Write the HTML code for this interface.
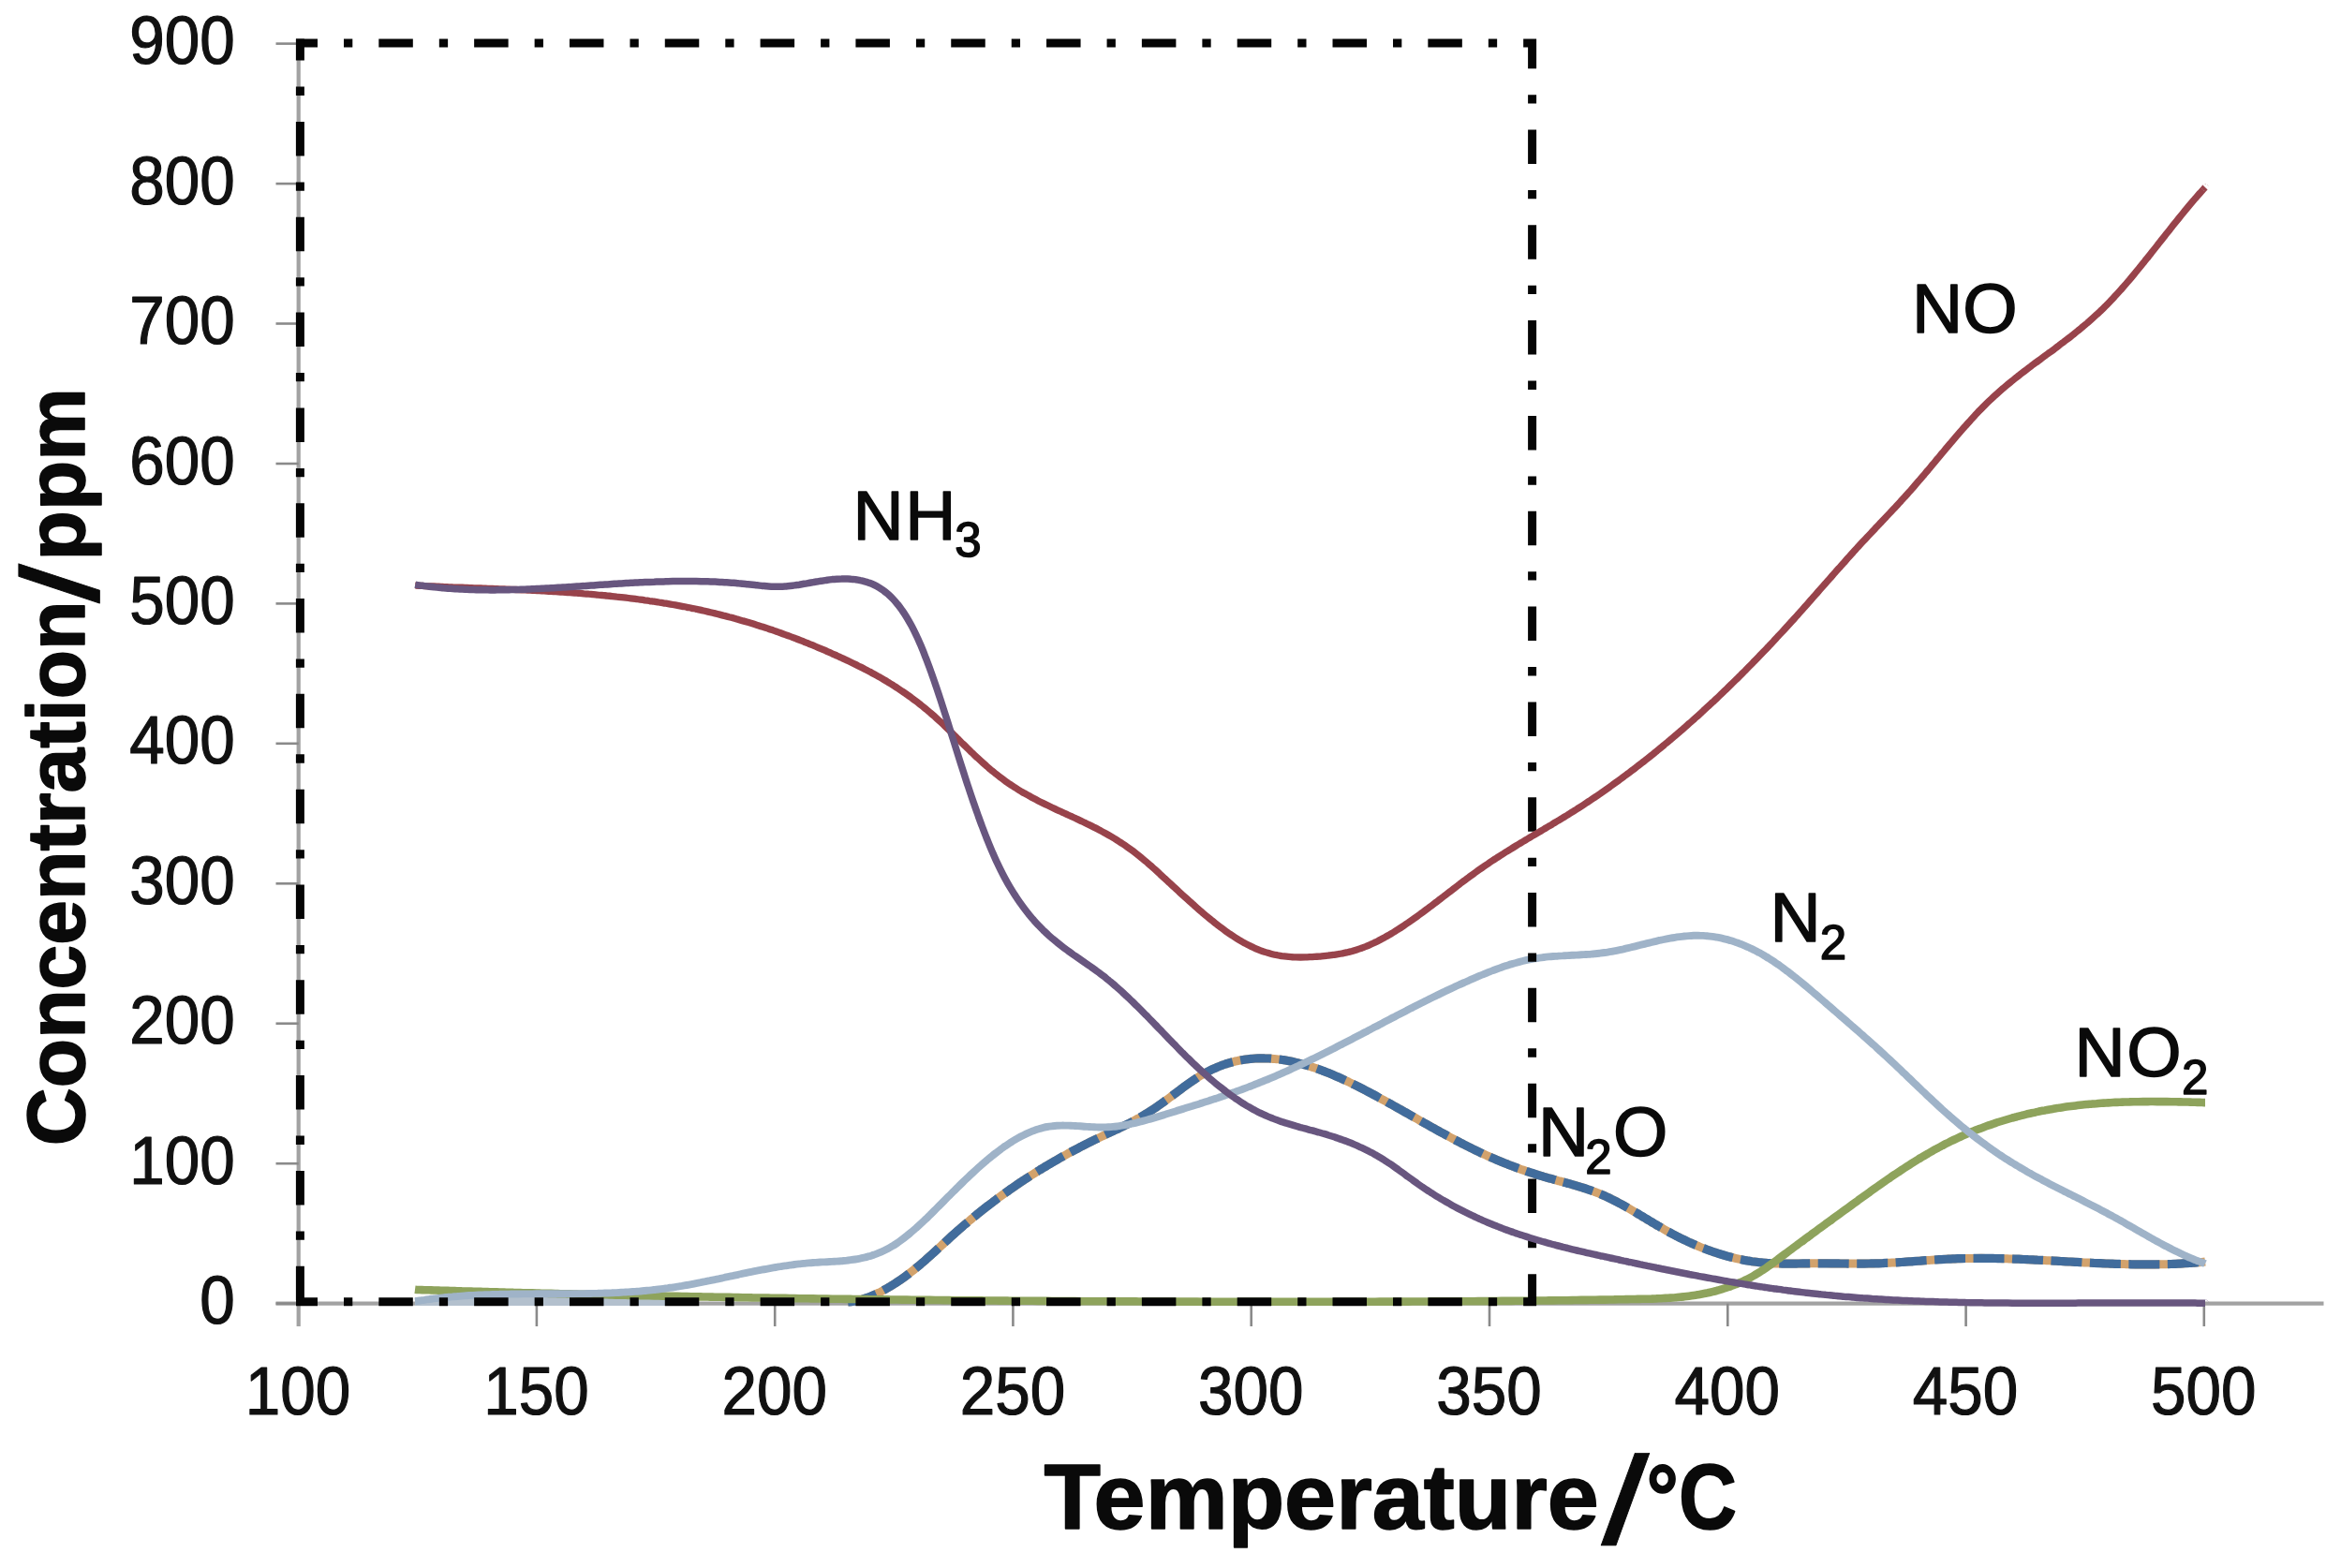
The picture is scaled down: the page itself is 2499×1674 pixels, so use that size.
<!DOCTYPE html>
<html lang="en"><head><meta charset="utf-8"><title>Concentration vs Temperature</title>
<style>html,body{margin:0;padding:0;background:#fff}body{width:2499px;height:1674px;overflow:hidden}svg{display:block}
.tk{font-family:"Liberation Sans",Arial,sans-serif;font-size:72.5px;fill:#111;stroke:#111;stroke-width:1.2px;stroke-linejoin:round}.an{font-family:"Liberation Sans",Arial,sans-serif;font-size:75px;fill:#0a0a0a;stroke:#0a0a0a;stroke-width:1.5px;stroke-linejoin:round}.sub{font-size:51px}.ti{font-family:"Liberation Sans",Arial,sans-serif;font-weight:bold;fill:#0a0a0a;stroke:#0a0a0a;stroke-width:1.6px;stroke-linejoin:round}
</style></head><body>
<svg width="2499" height="1674" viewBox="0 0 2499 1674">
<rect width="2499" height="1674" fill="#ffffff"/>
<g stroke="#a2a2a2" stroke-width="4.2" fill="none">
<line x1="318.7" y1="45.5" x2="318.7" y2="1416"/>
<line x1="294.5" y1="1391.7" x2="2480.5" y2="1391.7"/>
</g>
<g stroke="#8a8a8a" stroke-width="2.6" fill="none">
<line x1="294.5" y1="1391.6" x2="318.7" y2="1391.6"/>
<line x1="294.5" y1="1242.2" x2="318.7" y2="1242.2"/>
<line x1="294.5" y1="1092.7" x2="318.7" y2="1092.7"/>
<line x1="294.5" y1="943.3" x2="318.7" y2="943.3"/>
<line x1="294.5" y1="793.8" x2="318.7" y2="793.8"/>
<line x1="294.5" y1="644.4" x2="318.7" y2="644.4"/>
<line x1="294.5" y1="495.0" x2="318.7" y2="495.0"/>
<line x1="294.5" y1="345.5" x2="318.7" y2="345.5"/>
<line x1="294.5" y1="196.1" x2="318.7" y2="196.1"/>
<line x1="294.5" y1="46.6" x2="318.7" y2="46.6"/>
<line x1="572.9" y1="1391.7" x2="572.9" y2="1416"/>
<line x1="827.2" y1="1391.7" x2="827.2" y2="1416"/>
<line x1="1081.4" y1="1391.7" x2="1081.4" y2="1416"/>
<line x1="1335.7" y1="1391.7" x2="1335.7" y2="1416"/>
<line x1="1590.0" y1="1391.7" x2="1590.0" y2="1416"/>
<line x1="1844.3" y1="1391.7" x2="1844.3" y2="1416"/>
<line x1="2098.6" y1="1391.7" x2="2098.6" y2="1416"/>
<line x1="2352.8" y1="1391.7" x2="2352.8" y2="1416"/>
</g>
<g class="tk" text-anchor="end">
<text x="250.8" y="1413.2" textLength="37.5" lengthAdjust="spacingAndGlyphs">0</text>
<text x="250.8" y="1263.8" textLength="112.5" lengthAdjust="spacingAndGlyphs">100</text>
<text x="250.8" y="1114.3" textLength="112.5" lengthAdjust="spacingAndGlyphs">200</text>
<text x="250.8" y="964.9" textLength="112.5" lengthAdjust="spacingAndGlyphs">300</text>
<text x="250.8" y="815.4" textLength="112.5" lengthAdjust="spacingAndGlyphs">400</text>
<text x="250.8" y="666.0" textLength="112.5" lengthAdjust="spacingAndGlyphs">500</text>
<text x="250.8" y="516.6" textLength="112.5" lengthAdjust="spacingAndGlyphs">600</text>
<text x="250.8" y="367.1" textLength="112.5" lengthAdjust="spacingAndGlyphs">700</text>
<text x="250.8" y="217.7" textLength="112.5" lengthAdjust="spacingAndGlyphs">800</text>
<text x="250.8" y="68.2" textLength="112.5" lengthAdjust="spacingAndGlyphs">900</text>
</g>
<g class="tk" text-anchor="middle">
<text x="318.1" y="1510.3" textLength="112.5" lengthAdjust="spacingAndGlyphs">100</text>
<text x="572.4" y="1510.3" textLength="112.5" lengthAdjust="spacingAndGlyphs">150</text>
<text x="826.7" y="1510.3" textLength="112.5" lengthAdjust="spacingAndGlyphs">200</text>
<text x="1080.9" y="1510.3" textLength="112.5" lengthAdjust="spacingAndGlyphs">250</text>
<text x="1335.2" y="1510.3" textLength="112.5" lengthAdjust="spacingAndGlyphs">300</text>
<text x="1589.5" y="1510.3" textLength="112.5" lengthAdjust="spacingAndGlyphs">350</text>
<text x="1843.8" y="1510.3" textLength="112.5" lengthAdjust="spacingAndGlyphs">400</text>
<text x="2098.1" y="1510.3" textLength="112.5" lengthAdjust="spacingAndGlyphs">450</text>
<text x="2352.3" y="1510.3" textLength="112.5" lengthAdjust="spacingAndGlyphs">500</text>
</g>
<g fill="none" stroke-linecap="butt" stroke-linejoin="round">
<path d="M443,1389.5 H736" stroke="#b3c0cd" stroke-width="9"/>
<path id="n2o_o" d="M905.0,1390.0C905.8,1389.9 908.3,1389.7 910.0,1389.5C911.7,1389.2 913.3,1388.9 915.0,1388.5C916.7,1388.2 918.3,1387.8 920.0,1387.3C921.7,1386.8 923.3,1386.3 925.0,1385.7C926.7,1385.1 928.3,1384.5 930.0,1383.8C931.7,1383.1 933.3,1382.4 935.0,1381.6C936.7,1380.9 938.3,1380.0 940.0,1379.2C941.7,1378.3 943.3,1377.4 945.0,1376.5C946.7,1375.6 948.3,1374.6 950.0,1373.6C951.7,1372.6 953.3,1371.6 955.0,1370.5C956.7,1369.4 958.3,1368.3 960.0,1367.2C961.7,1366.0 963.3,1364.9 965.0,1363.7C966.7,1362.5 968.3,1361.2 970.0,1360.0C971.7,1358.7 973.3,1357.4 975.0,1356.1C976.7,1354.8 978.3,1353.4 980.0,1352.0C981.7,1350.6 983.3,1349.2 985.0,1347.8C986.7,1346.4 988.3,1344.9 990.0,1343.4C991.7,1341.9 993.3,1340.4 995.0,1338.9C996.7,1337.4 998.3,1335.9 1000.0,1334.3C1001.7,1332.8 1003.3,1331.3 1005.0,1329.7C1006.7,1328.2 1008.3,1326.6 1010.0,1325.1C1011.7,1323.6 1013.3,1322.0 1015.0,1320.5C1016.7,1319.0 1018.3,1317.5 1020.0,1316.0C1021.7,1314.5 1023.3,1313.1 1025.0,1311.6C1026.7,1310.2 1028.3,1308.7 1030.0,1307.3C1031.7,1305.9 1033.3,1304.5 1035.0,1303.1C1036.7,1301.7 1038.3,1300.3 1040.0,1298.9C1041.7,1297.6 1043.3,1296.2 1045.0,1294.9C1046.7,1293.5 1048.3,1292.2 1050.0,1290.9C1051.7,1289.6 1053.3,1288.3 1055.0,1287.0C1056.7,1285.7 1058.3,1284.4 1060.0,1283.2C1061.7,1281.9 1063.3,1280.7 1065.0,1279.4C1066.7,1278.2 1068.3,1277.0 1070.0,1275.8C1071.7,1274.6 1073.3,1273.4 1075.0,1272.2C1076.7,1271.0 1078.3,1269.8 1080.0,1268.7C1081.7,1267.5 1083.3,1266.4 1085.0,1265.2C1086.7,1264.1 1088.3,1263.0 1090.0,1261.8C1091.7,1260.7 1093.3,1259.6 1095.0,1258.5C1096.7,1257.5 1098.3,1256.4 1100.0,1255.3C1101.7,1254.2 1103.3,1253.2 1105.0,1252.1C1106.7,1251.1 1108.3,1250.1 1110.0,1249.0C1111.7,1248.0 1113.3,1247.0 1115.0,1246.0C1116.7,1245.0 1118.3,1244.0 1120.0,1243.0C1121.7,1242.0 1123.3,1241.0 1125.0,1240.1C1126.7,1239.1 1128.3,1238.2 1130.0,1237.2C1131.7,1236.3 1133.3,1235.3 1135.0,1234.4C1136.7,1233.5 1138.3,1232.6 1140.0,1231.6C1141.7,1230.7 1143.3,1229.8 1145.0,1228.9C1146.7,1228.0 1148.3,1227.2 1150.0,1226.3C1151.7,1225.4 1153.3,1224.5 1155.0,1223.7C1156.7,1222.8 1158.3,1222.0 1160.0,1221.1C1161.7,1220.3 1163.3,1219.5 1165.0,1218.6C1166.7,1217.8 1168.3,1217.0 1170.0,1216.2C1171.7,1215.4 1173.3,1214.5 1175.0,1213.8C1176.7,1213.0 1178.3,1212.2 1180.0,1211.4C1181.7,1210.6 1183.3,1209.8 1185.0,1209.0C1186.7,1208.3 1188.3,1207.5 1190.0,1206.7C1191.7,1205.9 1193.3,1205.1 1195.0,1204.4C1196.7,1203.6 1198.3,1202.8 1200.0,1201.9C1201.7,1201.1 1203.3,1200.3 1205.0,1199.5C1206.7,1198.6 1208.3,1197.7 1210.0,1196.9C1211.7,1196.0 1213.3,1195.0 1215.0,1194.1C1216.7,1193.2 1218.3,1192.2 1220.0,1191.2C1221.7,1190.2 1223.3,1189.2 1225.0,1188.1C1226.7,1187.1 1228.3,1186.0 1230.0,1184.9C1231.7,1183.8 1233.3,1182.7 1235.0,1181.6C1236.7,1180.4 1238.3,1179.3 1240.0,1178.1C1241.7,1176.9 1243.3,1175.7 1245.0,1174.5C1246.7,1173.3 1248.3,1172.1 1250.0,1170.8C1251.7,1169.6 1253.3,1168.3 1255.0,1167.1C1256.7,1165.8 1258.3,1164.6 1260.0,1163.3C1261.7,1162.1 1263.3,1160.8 1265.0,1159.6C1266.7,1158.4 1268.3,1157.2 1270.0,1156.0C1271.7,1154.8 1273.3,1153.7 1275.0,1152.6C1276.7,1151.5 1278.3,1150.4 1280.0,1149.3C1281.7,1148.3 1283.3,1147.3 1285.0,1146.4C1286.7,1145.4 1288.3,1144.5 1290.0,1143.7C1291.7,1142.8 1293.3,1142.0 1295.0,1141.2C1296.7,1140.5 1298.3,1139.8 1300.0,1139.1C1301.7,1138.4 1303.3,1137.7 1305.0,1137.1C1306.7,1136.5 1308.3,1136.0 1310.0,1135.4C1311.7,1134.9 1313.3,1134.4 1315.0,1134.0C1316.7,1133.6 1318.3,1133.1 1320.0,1132.8C1321.7,1132.4 1323.3,1132.1 1325.0,1131.8C1326.7,1131.5 1328.3,1131.2 1330.0,1131.0C1331.7,1130.8 1333.3,1130.6 1335.0,1130.4C1336.7,1130.2 1338.3,1130.1 1340.0,1130.0C1341.7,1129.9 1343.3,1129.9 1345.0,1129.8C1346.7,1129.8 1348.3,1129.8 1350.0,1129.9C1351.7,1129.9 1353.3,1129.9 1355.0,1130.0C1356.7,1130.1 1358.3,1130.3 1360.0,1130.4C1361.7,1130.6 1363.3,1130.7 1365.0,1130.9C1366.7,1131.1 1368.3,1131.4 1370.0,1131.6C1371.7,1131.9 1373.3,1132.2 1375.0,1132.5C1376.7,1132.8 1378.3,1133.1 1380.0,1133.5C1381.7,1133.9 1383.3,1134.3 1385.0,1134.7C1386.7,1135.1 1388.3,1135.5 1390.0,1136.0C1391.7,1136.4 1393.3,1136.9 1395.0,1137.4C1396.7,1137.9 1398.3,1138.4 1400.0,1138.9C1401.7,1139.5 1403.3,1140.0 1405.0,1140.6C1406.7,1141.2 1408.3,1141.8 1410.0,1142.4C1411.7,1143.0 1413.3,1143.7 1415.0,1144.3C1416.7,1145.0 1418.3,1145.6 1420.0,1146.3C1421.7,1147.0 1423.3,1147.7 1425.0,1148.4C1426.7,1149.1 1428.3,1149.9 1430.0,1150.6C1431.7,1151.3 1433.3,1152.1 1435.0,1152.9C1436.7,1153.6 1438.3,1154.4 1440.0,1155.2C1441.7,1156.0 1443.3,1156.8 1445.0,1157.7C1446.7,1158.5 1448.3,1159.3 1450.0,1160.1C1451.7,1161.0 1453.3,1161.8 1455.0,1162.7C1456.7,1163.6 1458.3,1164.4 1460.0,1165.3C1461.7,1166.2 1463.3,1167.1 1465.0,1168.0C1466.7,1168.8 1468.3,1169.7 1470.0,1170.6C1471.7,1171.6 1473.3,1172.5 1475.0,1173.4C1476.7,1174.3 1478.3,1175.2 1480.0,1176.1C1481.7,1177.1 1483.3,1178.0 1485.0,1178.9C1486.7,1179.9 1488.3,1180.8 1490.0,1181.7C1491.7,1182.7 1493.3,1183.6 1495.0,1184.5C1496.7,1185.5 1498.3,1186.4 1500.0,1187.4C1501.7,1188.3 1503.3,1189.3 1505.0,1190.2C1506.7,1191.2 1508.3,1192.1 1510.0,1193.0C1511.7,1194.0 1513.3,1194.9 1515.0,1195.9C1516.7,1196.8 1518.3,1197.8 1520.0,1198.7C1521.7,1199.6 1523.3,1200.6 1525.0,1201.5C1526.7,1202.4 1528.3,1203.4 1530.0,1204.3C1531.7,1205.2 1533.3,1206.2 1535.0,1207.1C1536.7,1208.0 1538.3,1208.9 1540.0,1209.8C1541.7,1210.7 1543.3,1211.6 1545.0,1212.5C1546.7,1213.4 1548.3,1214.3 1550.0,1215.2C1551.7,1216.1 1553.3,1217.0 1555.0,1217.9C1556.7,1218.7 1558.3,1219.6 1560.0,1220.5C1561.7,1221.3 1563.3,1222.2 1565.0,1223.0C1566.7,1223.9 1568.3,1224.7 1570.0,1225.5C1571.7,1226.4 1573.3,1227.2 1575.0,1228.0C1576.7,1228.8 1578.3,1229.6 1580.0,1230.4C1581.7,1231.1 1583.3,1231.9 1585.0,1232.7C1586.7,1233.4 1588.3,1234.2 1590.0,1234.9C1591.7,1235.7 1593.3,1236.4 1595.0,1237.1C1596.7,1237.8 1598.3,1238.5 1600.0,1239.2C1601.7,1239.9 1603.3,1240.6 1605.0,1241.3C1606.7,1242.0 1608.3,1242.6 1610.0,1243.3C1611.7,1243.9 1613.3,1244.6 1615.0,1245.2C1616.7,1245.8 1618.3,1246.5 1620.0,1247.1C1621.7,1247.7 1623.3,1248.3 1625.0,1248.9C1626.7,1249.4 1628.3,1250.0 1630.0,1250.6C1631.7,1251.1 1633.3,1251.7 1635.0,1252.2C1636.7,1252.8 1638.3,1253.3 1640.0,1253.8C1641.7,1254.4 1643.3,1254.9 1645.0,1255.4C1646.7,1255.9 1648.3,1256.3 1650.0,1256.8C1651.7,1257.3 1653.3,1257.8 1655.0,1258.2C1656.7,1258.7 1658.3,1259.1 1660.0,1259.6C1661.7,1260.1 1663.3,1260.5 1665.0,1261.0C1666.7,1261.4 1668.3,1261.9 1670.0,1262.3C1671.7,1262.8 1673.3,1263.2 1675.0,1263.7C1676.7,1264.2 1678.3,1264.6 1680.0,1265.1C1681.7,1265.6 1683.3,1266.1 1685.0,1266.6C1686.7,1267.1 1688.3,1267.6 1690.0,1268.1C1691.7,1268.7 1693.3,1269.2 1695.0,1269.8C1696.7,1270.3 1698.3,1270.9 1700.0,1271.5C1701.7,1272.1 1703.3,1272.8 1705.0,1273.4C1706.7,1274.1 1708.3,1274.8 1710.0,1275.5C1711.7,1276.2 1713.3,1276.9 1715.0,1277.7C1716.7,1278.4 1718.3,1279.2 1720.0,1280.1C1721.7,1280.9 1723.3,1281.7 1725.0,1282.6C1726.7,1283.5 1728.3,1284.4 1730.0,1285.3C1731.7,1286.2 1733.3,1287.1 1735.0,1288.0C1736.7,1289.0 1738.3,1289.9 1740.0,1290.9C1741.7,1291.9 1743.3,1292.8 1745.0,1293.8C1746.7,1294.8 1748.3,1295.8 1750.0,1296.8C1751.7,1297.8 1753.3,1298.8 1755.0,1299.8C1756.7,1300.8 1758.3,1301.8 1760.0,1302.8C1761.7,1303.8 1763.3,1304.8 1765.0,1305.8C1766.7,1306.8 1768.3,1307.8 1770.0,1308.8C1771.7,1309.7 1773.3,1310.7 1775.0,1311.6C1776.7,1312.6 1778.3,1313.5 1780.0,1314.5C1781.7,1315.4 1783.3,1316.3 1785.0,1317.2C1786.7,1318.1 1788.3,1318.9 1790.0,1319.8C1791.7,1320.6 1793.3,1321.5 1795.0,1322.3C1796.7,1323.1 1798.3,1323.9 1800.0,1324.7C1801.7,1325.5 1803.3,1326.3 1805.0,1327.0C1806.7,1327.7 1808.3,1328.5 1810.0,1329.2C1811.7,1329.9 1813.3,1330.6 1815.0,1331.3C1816.7,1332.0 1818.3,1332.6 1820.0,1333.2C1821.7,1333.9 1823.3,1334.5 1825.0,1335.1C1826.7,1335.7 1828.3,1336.3 1830.0,1336.9C1831.7,1337.4 1833.3,1338.0 1835.0,1338.5C1836.7,1339.0 1838.3,1339.5 1840.0,1340.0C1841.7,1340.5 1843.3,1341.0 1845.0,1341.4C1846.7,1341.9 1848.3,1342.3 1850.0,1342.7C1851.7,1343.1 1853.3,1343.5 1855.0,1343.9C1856.7,1344.3 1858.3,1344.6 1860.0,1344.9C1861.7,1345.3 1863.3,1345.6 1865.0,1345.9C1866.7,1346.1 1868.3,1346.4 1870.0,1346.7C1871.7,1346.9 1873.3,1347.1 1875.0,1347.3C1876.7,1347.6 1878.3,1347.7 1880.0,1347.9C1881.7,1348.1 1883.3,1348.2 1885.0,1348.3C1886.7,1348.5 1888.3,1348.6 1890.0,1348.7C1891.7,1348.7 1893.3,1348.8 1895.0,1348.9C1896.7,1348.9 1898.3,1349.0 1900.0,1349.0C1901.7,1349.0 1903.3,1349.1 1905.0,1349.1C1906.7,1349.1 1908.3,1349.1 1910.0,1349.1C1911.7,1349.1 1913.3,1349.1 1915.0,1349.1C1916.7,1349.1 1918.3,1349.0 1920.0,1349.0C1921.7,1349.0 1923.3,1349.0 1925.0,1348.9C1926.7,1348.9 1928.3,1348.9 1930.0,1348.9C1931.7,1348.9 1933.3,1348.8 1935.0,1348.8C1936.7,1348.8 1938.3,1348.8 1940.0,1348.8C1941.7,1348.8 1943.3,1348.8 1945.0,1348.8C1946.7,1348.8 1948.3,1348.8 1950.0,1348.8C1951.7,1348.9 1953.3,1348.9 1955.0,1348.9C1956.7,1348.9 1958.3,1348.9 1960.0,1348.9C1961.7,1348.9 1963.3,1349.0 1965.0,1349.0C1966.7,1349.0 1968.3,1349.0 1970.0,1349.0C1971.7,1349.0 1973.3,1349.1 1975.0,1349.1C1976.7,1349.1 1978.3,1349.1 1980.0,1349.1C1981.7,1349.1 1983.3,1349.1 1985.0,1349.1C1986.7,1349.1 1988.3,1349.1 1990.0,1349.1C1991.7,1349.0 1993.3,1349.0 1995.0,1349.0C1996.7,1349.0 1998.3,1348.9 2000.0,1348.9C2001.7,1348.9 2003.3,1348.8 2005.0,1348.8C2006.7,1348.7 2008.3,1348.6 2010.0,1348.6C2011.7,1348.5 2013.3,1348.4 2015.0,1348.3C2016.7,1348.3 2018.3,1348.2 2020.0,1348.1C2021.7,1348.0 2023.3,1347.9 2025.0,1347.8C2026.7,1347.7 2028.3,1347.6 2030.0,1347.5C2031.7,1347.3 2033.3,1347.2 2035.0,1347.1C2036.7,1347.0 2038.3,1346.9 2040.0,1346.8C2041.7,1346.7 2043.3,1346.5 2045.0,1346.4C2046.7,1346.3 2048.3,1346.2 2050.0,1346.1C2051.7,1345.9 2053.3,1345.8 2055.0,1345.7C2056.7,1345.6 2058.3,1345.5 2060.0,1345.4C2061.7,1345.2 2063.3,1345.1 2065.0,1345.0C2066.7,1344.9 2068.3,1344.8 2070.0,1344.7C2071.7,1344.6 2073.3,1344.5 2075.0,1344.4C2076.7,1344.3 2078.3,1344.2 2080.0,1344.1C2081.7,1344.1 2083.3,1344.0 2085.0,1343.9C2086.7,1343.9 2088.3,1343.8 2090.0,1343.7C2091.7,1343.7 2093.3,1343.6 2095.0,1343.6C2096.7,1343.5 2098.3,1343.5 2100.0,1343.5C2101.7,1343.4 2103.3,1343.4 2105.0,1343.4C2106.7,1343.4 2108.3,1343.4 2110.0,1343.4C2111.7,1343.3 2113.3,1343.3 2115.0,1343.3C2116.7,1343.4 2118.3,1343.4 2120.0,1343.4C2121.7,1343.4 2123.3,1343.4 2125.0,1343.4C2126.7,1343.4 2128.3,1343.5 2130.0,1343.5C2131.7,1343.5 2133.3,1343.6 2135.0,1343.6C2136.7,1343.6 2138.3,1343.7 2140.0,1343.7C2141.7,1343.8 2143.3,1343.8 2145.0,1343.9C2146.7,1343.9 2148.3,1344.0 2150.0,1344.1C2151.7,1344.1 2153.3,1344.2 2155.0,1344.2C2156.7,1344.3 2158.3,1344.4 2160.0,1344.5C2161.7,1344.5 2163.3,1344.6 2165.0,1344.7C2166.7,1344.7 2168.3,1344.8 2170.0,1344.9C2171.7,1345.0 2173.3,1345.1 2175.0,1345.2C2176.7,1345.2 2178.3,1345.3 2180.0,1345.4C2181.7,1345.5 2183.3,1345.6 2185.0,1345.7C2186.7,1345.8 2188.3,1345.8 2190.0,1345.9C2191.7,1346.0 2193.3,1346.1 2195.0,1346.2C2196.7,1346.3 2198.3,1346.4 2200.0,1346.5C2201.7,1346.6 2203.3,1346.7 2205.0,1346.8C2206.7,1346.9 2208.3,1347.0 2210.0,1347.0C2211.7,1347.1 2213.3,1347.2 2215.0,1347.3C2216.7,1347.4 2218.3,1347.5 2220.0,1347.6C2221.7,1347.7 2223.3,1347.8 2225.0,1347.9C2226.7,1347.9 2228.3,1348.0 2230.0,1348.1C2231.7,1348.2 2233.3,1348.3 2235.0,1348.4C2236.7,1348.4 2238.3,1348.5 2240.0,1348.6C2241.7,1348.7 2243.3,1348.7 2245.0,1348.8C2246.7,1348.9 2248.3,1349.0 2250.0,1349.0C2251.7,1349.1 2253.3,1349.2 2255.0,1349.2C2256.7,1349.3 2258.3,1349.3 2260.0,1349.4C2261.7,1349.4 2263.3,1349.5 2265.0,1349.5C2266.7,1349.6 2268.3,1349.6 2270.0,1349.7C2271.7,1349.7 2273.3,1349.7 2275.0,1349.8C2276.7,1349.8 2278.3,1349.8 2280.0,1349.9C2281.7,1349.9 2283.3,1349.9 2285.0,1349.9C2286.7,1349.9 2288.3,1349.9 2290.0,1349.9C2291.7,1350.0 2293.3,1350.0 2295.0,1349.9C2296.7,1349.9 2298.3,1349.9 2300.0,1349.9C2301.7,1349.9 2303.3,1349.9 2305.0,1349.8C2306.7,1349.8 2308.3,1349.8 2310.0,1349.7C2311.7,1349.7 2313.3,1349.6 2315.0,1349.6C2316.7,1349.5 2318.3,1349.5 2320.0,1349.4C2321.7,1349.3 2323.3,1349.3 2325.0,1349.2C2326.7,1349.1 2328.3,1349.0 2330.0,1348.9C2331.7,1348.8 2333.3,1348.7 2335.0,1348.6C2336.7,1348.5 2338.3,1348.4 2340.0,1348.3C2341.7,1348.1 2343.3,1348.0 2345.0,1347.9C2346.7,1347.7 2348.5,1347.5 2350.0,1347.4C2351.5,1347.3 2353.3,1347.1 2354.0,1347.0" stroke="#d2a26c" stroke-width="9"/>
<path id="n2o_b" d="M905.0,1390.0C905.8,1389.9 908.3,1389.7 910.0,1389.5C911.7,1389.2 913.3,1388.9 915.0,1388.5C916.7,1388.2 918.3,1387.8 920.0,1387.3C921.7,1386.8 923.3,1386.3 925.0,1385.7C926.7,1385.1 928.3,1384.5 930.0,1383.8C931.7,1383.1 933.3,1382.4 935.0,1381.6C936.7,1380.9 938.3,1380.0 940.0,1379.2C941.7,1378.3 943.3,1377.4 945.0,1376.5C946.7,1375.6 948.3,1374.6 950.0,1373.6C951.7,1372.6 953.3,1371.6 955.0,1370.5C956.7,1369.4 958.3,1368.3 960.0,1367.2C961.7,1366.0 963.3,1364.9 965.0,1363.7C966.7,1362.5 968.3,1361.2 970.0,1360.0C971.7,1358.7 973.3,1357.4 975.0,1356.1C976.7,1354.8 978.3,1353.4 980.0,1352.0C981.7,1350.6 983.3,1349.2 985.0,1347.8C986.7,1346.4 988.3,1344.9 990.0,1343.4C991.7,1341.9 993.3,1340.4 995.0,1338.9C996.7,1337.4 998.3,1335.9 1000.0,1334.3C1001.7,1332.8 1003.3,1331.3 1005.0,1329.7C1006.7,1328.2 1008.3,1326.6 1010.0,1325.1C1011.7,1323.6 1013.3,1322.0 1015.0,1320.5C1016.7,1319.0 1018.3,1317.5 1020.0,1316.0C1021.7,1314.5 1023.3,1313.1 1025.0,1311.6C1026.7,1310.2 1028.3,1308.7 1030.0,1307.3C1031.7,1305.9 1033.3,1304.5 1035.0,1303.1C1036.7,1301.7 1038.3,1300.3 1040.0,1298.9C1041.7,1297.6 1043.3,1296.2 1045.0,1294.9C1046.7,1293.5 1048.3,1292.2 1050.0,1290.9C1051.7,1289.6 1053.3,1288.3 1055.0,1287.0C1056.7,1285.7 1058.3,1284.4 1060.0,1283.2C1061.7,1281.9 1063.3,1280.7 1065.0,1279.4C1066.7,1278.2 1068.3,1277.0 1070.0,1275.8C1071.7,1274.6 1073.3,1273.4 1075.0,1272.2C1076.7,1271.0 1078.3,1269.8 1080.0,1268.7C1081.7,1267.5 1083.3,1266.4 1085.0,1265.2C1086.7,1264.1 1088.3,1263.0 1090.0,1261.8C1091.7,1260.7 1093.3,1259.6 1095.0,1258.5C1096.7,1257.5 1098.3,1256.4 1100.0,1255.3C1101.7,1254.2 1103.3,1253.2 1105.0,1252.1C1106.7,1251.1 1108.3,1250.1 1110.0,1249.0C1111.7,1248.0 1113.3,1247.0 1115.0,1246.0C1116.7,1245.0 1118.3,1244.0 1120.0,1243.0C1121.7,1242.0 1123.3,1241.0 1125.0,1240.1C1126.7,1239.1 1128.3,1238.2 1130.0,1237.2C1131.7,1236.3 1133.3,1235.3 1135.0,1234.4C1136.7,1233.5 1138.3,1232.6 1140.0,1231.6C1141.7,1230.7 1143.3,1229.8 1145.0,1228.9C1146.7,1228.0 1148.3,1227.2 1150.0,1226.3C1151.7,1225.4 1153.3,1224.5 1155.0,1223.7C1156.7,1222.8 1158.3,1222.0 1160.0,1221.1C1161.7,1220.3 1163.3,1219.5 1165.0,1218.6C1166.7,1217.8 1168.3,1217.0 1170.0,1216.2C1171.7,1215.4 1173.3,1214.5 1175.0,1213.8C1176.7,1213.0 1178.3,1212.2 1180.0,1211.4C1181.7,1210.6 1183.3,1209.8 1185.0,1209.0C1186.7,1208.3 1188.3,1207.5 1190.0,1206.7C1191.7,1205.9 1193.3,1205.1 1195.0,1204.4C1196.7,1203.6 1198.3,1202.8 1200.0,1201.9C1201.7,1201.1 1203.3,1200.3 1205.0,1199.5C1206.7,1198.6 1208.3,1197.7 1210.0,1196.9C1211.7,1196.0 1213.3,1195.0 1215.0,1194.1C1216.7,1193.2 1218.3,1192.2 1220.0,1191.2C1221.7,1190.2 1223.3,1189.2 1225.0,1188.1C1226.7,1187.1 1228.3,1186.0 1230.0,1184.9C1231.7,1183.8 1233.3,1182.7 1235.0,1181.6C1236.7,1180.4 1238.3,1179.3 1240.0,1178.1C1241.7,1176.9 1243.3,1175.7 1245.0,1174.5C1246.7,1173.3 1248.3,1172.1 1250.0,1170.8C1251.7,1169.6 1253.3,1168.3 1255.0,1167.1C1256.7,1165.8 1258.3,1164.6 1260.0,1163.3C1261.7,1162.1 1263.3,1160.8 1265.0,1159.6C1266.7,1158.4 1268.3,1157.2 1270.0,1156.0C1271.7,1154.8 1273.3,1153.7 1275.0,1152.6C1276.7,1151.5 1278.3,1150.4 1280.0,1149.3C1281.7,1148.3 1283.3,1147.3 1285.0,1146.4C1286.7,1145.4 1288.3,1144.5 1290.0,1143.7C1291.7,1142.8 1293.3,1142.0 1295.0,1141.2C1296.7,1140.5 1298.3,1139.8 1300.0,1139.1C1301.7,1138.4 1303.3,1137.7 1305.0,1137.1C1306.7,1136.5 1308.3,1136.0 1310.0,1135.4C1311.7,1134.9 1313.3,1134.4 1315.0,1134.0C1316.7,1133.6 1318.3,1133.1 1320.0,1132.8C1321.7,1132.4 1323.3,1132.1 1325.0,1131.8C1326.7,1131.5 1328.3,1131.2 1330.0,1131.0C1331.7,1130.8 1333.3,1130.6 1335.0,1130.4C1336.7,1130.2 1338.3,1130.1 1340.0,1130.0C1341.7,1129.9 1343.3,1129.9 1345.0,1129.8C1346.7,1129.8 1348.3,1129.8 1350.0,1129.9C1351.7,1129.9 1353.3,1129.9 1355.0,1130.0C1356.7,1130.1 1358.3,1130.3 1360.0,1130.4C1361.7,1130.6 1363.3,1130.7 1365.0,1130.9C1366.7,1131.1 1368.3,1131.4 1370.0,1131.6C1371.7,1131.9 1373.3,1132.2 1375.0,1132.5C1376.7,1132.8 1378.3,1133.1 1380.0,1133.5C1381.7,1133.9 1383.3,1134.3 1385.0,1134.7C1386.7,1135.1 1388.3,1135.5 1390.0,1136.0C1391.7,1136.4 1393.3,1136.9 1395.0,1137.4C1396.7,1137.9 1398.3,1138.4 1400.0,1138.9C1401.7,1139.5 1403.3,1140.0 1405.0,1140.6C1406.7,1141.2 1408.3,1141.8 1410.0,1142.4C1411.7,1143.0 1413.3,1143.7 1415.0,1144.3C1416.7,1145.0 1418.3,1145.6 1420.0,1146.3C1421.7,1147.0 1423.3,1147.7 1425.0,1148.4C1426.7,1149.1 1428.3,1149.9 1430.0,1150.6C1431.7,1151.3 1433.3,1152.1 1435.0,1152.9C1436.7,1153.6 1438.3,1154.4 1440.0,1155.2C1441.7,1156.0 1443.3,1156.8 1445.0,1157.7C1446.7,1158.5 1448.3,1159.3 1450.0,1160.1C1451.7,1161.0 1453.3,1161.8 1455.0,1162.7C1456.7,1163.6 1458.3,1164.4 1460.0,1165.3C1461.7,1166.2 1463.3,1167.1 1465.0,1168.0C1466.7,1168.8 1468.3,1169.7 1470.0,1170.6C1471.7,1171.6 1473.3,1172.5 1475.0,1173.4C1476.7,1174.3 1478.3,1175.2 1480.0,1176.1C1481.7,1177.1 1483.3,1178.0 1485.0,1178.9C1486.7,1179.9 1488.3,1180.8 1490.0,1181.7C1491.7,1182.7 1493.3,1183.6 1495.0,1184.5C1496.7,1185.5 1498.3,1186.4 1500.0,1187.4C1501.7,1188.3 1503.3,1189.3 1505.0,1190.2C1506.7,1191.2 1508.3,1192.1 1510.0,1193.0C1511.7,1194.0 1513.3,1194.9 1515.0,1195.9C1516.7,1196.8 1518.3,1197.8 1520.0,1198.7C1521.7,1199.6 1523.3,1200.6 1525.0,1201.5C1526.7,1202.4 1528.3,1203.4 1530.0,1204.3C1531.7,1205.2 1533.3,1206.2 1535.0,1207.1C1536.7,1208.0 1538.3,1208.9 1540.0,1209.8C1541.7,1210.7 1543.3,1211.6 1545.0,1212.5C1546.7,1213.4 1548.3,1214.3 1550.0,1215.2C1551.7,1216.1 1553.3,1217.0 1555.0,1217.9C1556.7,1218.7 1558.3,1219.6 1560.0,1220.5C1561.7,1221.3 1563.3,1222.2 1565.0,1223.0C1566.7,1223.9 1568.3,1224.7 1570.0,1225.5C1571.7,1226.4 1573.3,1227.2 1575.0,1228.0C1576.7,1228.8 1578.3,1229.6 1580.0,1230.4C1581.7,1231.1 1583.3,1231.9 1585.0,1232.7C1586.7,1233.4 1588.3,1234.2 1590.0,1234.9C1591.7,1235.7 1593.3,1236.4 1595.0,1237.1C1596.7,1237.8 1598.3,1238.5 1600.0,1239.2C1601.7,1239.9 1603.3,1240.6 1605.0,1241.3C1606.7,1242.0 1608.3,1242.6 1610.0,1243.3C1611.7,1243.9 1613.3,1244.6 1615.0,1245.2C1616.7,1245.8 1618.3,1246.5 1620.0,1247.1C1621.7,1247.7 1623.3,1248.3 1625.0,1248.9C1626.7,1249.4 1628.3,1250.0 1630.0,1250.6C1631.7,1251.1 1633.3,1251.7 1635.0,1252.2C1636.7,1252.8 1638.3,1253.3 1640.0,1253.8C1641.7,1254.4 1643.3,1254.9 1645.0,1255.4C1646.7,1255.9 1648.3,1256.3 1650.0,1256.8C1651.7,1257.3 1653.3,1257.8 1655.0,1258.2C1656.7,1258.7 1658.3,1259.1 1660.0,1259.6C1661.7,1260.1 1663.3,1260.5 1665.0,1261.0C1666.7,1261.4 1668.3,1261.9 1670.0,1262.3C1671.7,1262.8 1673.3,1263.2 1675.0,1263.7C1676.7,1264.2 1678.3,1264.6 1680.0,1265.1C1681.7,1265.6 1683.3,1266.1 1685.0,1266.6C1686.7,1267.1 1688.3,1267.6 1690.0,1268.1C1691.7,1268.7 1693.3,1269.2 1695.0,1269.8C1696.7,1270.3 1698.3,1270.9 1700.0,1271.5C1701.7,1272.1 1703.3,1272.8 1705.0,1273.4C1706.7,1274.1 1708.3,1274.8 1710.0,1275.5C1711.7,1276.2 1713.3,1276.9 1715.0,1277.7C1716.7,1278.4 1718.3,1279.2 1720.0,1280.1C1721.7,1280.9 1723.3,1281.7 1725.0,1282.6C1726.7,1283.5 1728.3,1284.4 1730.0,1285.3C1731.7,1286.2 1733.3,1287.1 1735.0,1288.0C1736.7,1289.0 1738.3,1289.9 1740.0,1290.9C1741.7,1291.9 1743.3,1292.8 1745.0,1293.8C1746.7,1294.8 1748.3,1295.8 1750.0,1296.8C1751.7,1297.8 1753.3,1298.8 1755.0,1299.8C1756.7,1300.8 1758.3,1301.8 1760.0,1302.8C1761.7,1303.8 1763.3,1304.8 1765.0,1305.8C1766.7,1306.8 1768.3,1307.8 1770.0,1308.8C1771.7,1309.7 1773.3,1310.7 1775.0,1311.6C1776.7,1312.6 1778.3,1313.5 1780.0,1314.5C1781.7,1315.4 1783.3,1316.3 1785.0,1317.2C1786.7,1318.1 1788.3,1318.9 1790.0,1319.8C1791.7,1320.6 1793.3,1321.5 1795.0,1322.3C1796.7,1323.1 1798.3,1323.9 1800.0,1324.7C1801.7,1325.5 1803.3,1326.3 1805.0,1327.0C1806.7,1327.7 1808.3,1328.5 1810.0,1329.2C1811.7,1329.9 1813.3,1330.6 1815.0,1331.3C1816.7,1332.0 1818.3,1332.6 1820.0,1333.2C1821.7,1333.9 1823.3,1334.5 1825.0,1335.1C1826.7,1335.7 1828.3,1336.3 1830.0,1336.9C1831.7,1337.4 1833.3,1338.0 1835.0,1338.5C1836.7,1339.0 1838.3,1339.5 1840.0,1340.0C1841.7,1340.5 1843.3,1341.0 1845.0,1341.4C1846.7,1341.9 1848.3,1342.3 1850.0,1342.7C1851.7,1343.1 1853.3,1343.5 1855.0,1343.9C1856.7,1344.3 1858.3,1344.6 1860.0,1344.9C1861.7,1345.3 1863.3,1345.6 1865.0,1345.9C1866.7,1346.1 1868.3,1346.4 1870.0,1346.7C1871.7,1346.9 1873.3,1347.1 1875.0,1347.3C1876.7,1347.6 1878.3,1347.7 1880.0,1347.9C1881.7,1348.1 1883.3,1348.2 1885.0,1348.3C1886.7,1348.5 1888.3,1348.6 1890.0,1348.7C1891.7,1348.7 1893.3,1348.8 1895.0,1348.9C1896.7,1348.9 1898.3,1349.0 1900.0,1349.0C1901.7,1349.0 1903.3,1349.1 1905.0,1349.1C1906.7,1349.1 1908.3,1349.1 1910.0,1349.1C1911.7,1349.1 1913.3,1349.1 1915.0,1349.1C1916.7,1349.1 1918.3,1349.0 1920.0,1349.0C1921.7,1349.0 1923.3,1349.0 1925.0,1348.9C1926.7,1348.9 1928.3,1348.9 1930.0,1348.9C1931.7,1348.9 1933.3,1348.8 1935.0,1348.8C1936.7,1348.8 1938.3,1348.8 1940.0,1348.8C1941.7,1348.8 1943.3,1348.8 1945.0,1348.8C1946.7,1348.8 1948.3,1348.8 1950.0,1348.8C1951.7,1348.9 1953.3,1348.9 1955.0,1348.9C1956.7,1348.9 1958.3,1348.9 1960.0,1348.9C1961.7,1348.9 1963.3,1349.0 1965.0,1349.0C1966.7,1349.0 1968.3,1349.0 1970.0,1349.0C1971.7,1349.0 1973.3,1349.1 1975.0,1349.1C1976.7,1349.1 1978.3,1349.1 1980.0,1349.1C1981.7,1349.1 1983.3,1349.1 1985.0,1349.1C1986.7,1349.1 1988.3,1349.1 1990.0,1349.1C1991.7,1349.0 1993.3,1349.0 1995.0,1349.0C1996.7,1349.0 1998.3,1348.9 2000.0,1348.9C2001.7,1348.9 2003.3,1348.8 2005.0,1348.8C2006.7,1348.7 2008.3,1348.6 2010.0,1348.6C2011.7,1348.5 2013.3,1348.4 2015.0,1348.3C2016.7,1348.3 2018.3,1348.2 2020.0,1348.1C2021.7,1348.0 2023.3,1347.9 2025.0,1347.8C2026.7,1347.7 2028.3,1347.6 2030.0,1347.5C2031.7,1347.3 2033.3,1347.2 2035.0,1347.1C2036.7,1347.0 2038.3,1346.9 2040.0,1346.8C2041.7,1346.7 2043.3,1346.5 2045.0,1346.4C2046.7,1346.3 2048.3,1346.2 2050.0,1346.1C2051.7,1345.9 2053.3,1345.8 2055.0,1345.7C2056.7,1345.6 2058.3,1345.5 2060.0,1345.4C2061.7,1345.2 2063.3,1345.1 2065.0,1345.0C2066.7,1344.9 2068.3,1344.8 2070.0,1344.7C2071.7,1344.6 2073.3,1344.5 2075.0,1344.4C2076.7,1344.3 2078.3,1344.2 2080.0,1344.1C2081.7,1344.1 2083.3,1344.0 2085.0,1343.9C2086.7,1343.9 2088.3,1343.8 2090.0,1343.7C2091.7,1343.7 2093.3,1343.6 2095.0,1343.6C2096.7,1343.5 2098.3,1343.5 2100.0,1343.5C2101.7,1343.4 2103.3,1343.4 2105.0,1343.4C2106.7,1343.4 2108.3,1343.4 2110.0,1343.4C2111.7,1343.3 2113.3,1343.3 2115.0,1343.3C2116.7,1343.4 2118.3,1343.4 2120.0,1343.4C2121.7,1343.4 2123.3,1343.4 2125.0,1343.4C2126.7,1343.4 2128.3,1343.5 2130.0,1343.5C2131.7,1343.5 2133.3,1343.6 2135.0,1343.6C2136.7,1343.6 2138.3,1343.7 2140.0,1343.7C2141.7,1343.8 2143.3,1343.8 2145.0,1343.9C2146.7,1343.9 2148.3,1344.0 2150.0,1344.1C2151.7,1344.1 2153.3,1344.2 2155.0,1344.2C2156.7,1344.3 2158.3,1344.4 2160.0,1344.5C2161.7,1344.5 2163.3,1344.6 2165.0,1344.7C2166.7,1344.7 2168.3,1344.8 2170.0,1344.9C2171.7,1345.0 2173.3,1345.1 2175.0,1345.2C2176.7,1345.2 2178.3,1345.3 2180.0,1345.4C2181.7,1345.5 2183.3,1345.6 2185.0,1345.7C2186.7,1345.8 2188.3,1345.8 2190.0,1345.9C2191.7,1346.0 2193.3,1346.1 2195.0,1346.2C2196.7,1346.3 2198.3,1346.4 2200.0,1346.5C2201.7,1346.6 2203.3,1346.7 2205.0,1346.8C2206.7,1346.9 2208.3,1347.0 2210.0,1347.0C2211.7,1347.1 2213.3,1347.2 2215.0,1347.3C2216.7,1347.4 2218.3,1347.5 2220.0,1347.6C2221.7,1347.7 2223.3,1347.8 2225.0,1347.9C2226.7,1347.9 2228.3,1348.0 2230.0,1348.1C2231.7,1348.2 2233.3,1348.3 2235.0,1348.4C2236.7,1348.4 2238.3,1348.5 2240.0,1348.6C2241.7,1348.7 2243.3,1348.7 2245.0,1348.8C2246.7,1348.9 2248.3,1349.0 2250.0,1349.0C2251.7,1349.1 2253.3,1349.2 2255.0,1349.2C2256.7,1349.3 2258.3,1349.3 2260.0,1349.4C2261.7,1349.4 2263.3,1349.5 2265.0,1349.5C2266.7,1349.6 2268.3,1349.6 2270.0,1349.7C2271.7,1349.7 2273.3,1349.7 2275.0,1349.8C2276.7,1349.8 2278.3,1349.8 2280.0,1349.9C2281.7,1349.9 2283.3,1349.9 2285.0,1349.9C2286.7,1349.9 2288.3,1349.9 2290.0,1349.9C2291.7,1350.0 2293.3,1350.0 2295.0,1349.9C2296.7,1349.9 2298.3,1349.9 2300.0,1349.9C2301.7,1349.9 2303.3,1349.9 2305.0,1349.8C2306.7,1349.8 2308.3,1349.8 2310.0,1349.7C2311.7,1349.7 2313.3,1349.6 2315.0,1349.6C2316.7,1349.5 2318.3,1349.5 2320.0,1349.4C2321.7,1349.3 2323.3,1349.3 2325.0,1349.2C2326.7,1349.1 2328.3,1349.0 2330.0,1348.9C2331.7,1348.8 2333.3,1348.7 2335.0,1348.6C2336.7,1348.5 2338.3,1348.4 2340.0,1348.3C2341.7,1348.1 2343.3,1348.0 2345.0,1347.9C2346.7,1347.7 2348.5,1347.5 2350.0,1347.4C2351.5,1347.3 2353.3,1347.1 2354.0,1347.0" stroke="#416c9c" stroke-width="9.2" stroke-dasharray="33 8.5" stroke-dashoffset="1.2"/>
<path id="no2" d="M443.0,1376.8C443.8,1376.9 446.3,1377.0 448.0,1377.0C449.7,1377.1 451.3,1377.1 453.0,1377.2C454.7,1377.2 456.3,1377.3 458.0,1377.3C459.7,1377.4 461.3,1377.4 463.0,1377.5C464.7,1377.5 466.3,1377.6 468.0,1377.6C469.7,1377.7 471.3,1377.7 473.0,1377.8C474.7,1377.8 476.3,1377.9 478.0,1377.9C479.7,1378.0 481.3,1378.0 483.0,1378.1C484.7,1378.1 486.3,1378.2 488.0,1378.2C489.7,1378.3 491.3,1378.3 493.0,1378.4C494.7,1378.4 496.3,1378.5 498.0,1378.5C499.7,1378.5 501.3,1378.6 503.0,1378.6C504.7,1378.7 506.3,1378.7 508.0,1378.8C509.7,1378.8 511.3,1378.9 513.0,1378.9C514.7,1379.0 516.3,1379.0 518.0,1379.1C519.7,1379.1 521.3,1379.2 523.0,1379.2C524.7,1379.3 526.3,1379.3 528.0,1379.3C529.7,1379.4 531.3,1379.4 533.0,1379.5C534.7,1379.5 536.3,1379.6 538.0,1379.6C539.7,1379.7 541.3,1379.7 543.0,1379.8C544.7,1379.8 546.3,1379.8 548.0,1379.9C549.7,1379.9 551.3,1380.0 553.0,1380.0C554.7,1380.1 556.3,1380.1 558.0,1380.2C559.7,1380.2 561.3,1380.2 563.0,1380.3C564.7,1380.3 566.3,1380.4 568.0,1380.4C569.7,1380.5 571.3,1380.5 573.0,1380.5C574.7,1380.6 576.3,1380.6 578.0,1380.7C579.7,1380.7 581.3,1380.8 583.0,1380.8C584.7,1380.8 586.3,1380.9 588.0,1380.9C589.7,1381.0 591.3,1381.0 593.0,1381.0C594.7,1381.1 596.3,1381.1 598.0,1381.2C599.7,1381.2 601.3,1381.3 603.0,1381.3C604.7,1381.3 606.3,1381.4 608.0,1381.4C609.7,1381.5 611.3,1381.5 613.0,1381.5C614.7,1381.6 616.3,1381.6 618.0,1381.7C619.7,1381.7 621.3,1381.7 623.0,1381.8C624.7,1381.8 626.3,1381.9 628.0,1381.9C629.7,1381.9 631.3,1382.0 633.0,1382.0C634.7,1382.0 636.3,1382.1 638.0,1382.1C639.7,1382.2 641.3,1382.2 643.0,1382.2C644.7,1382.3 646.3,1382.3 648.0,1382.3C649.7,1382.4 651.3,1382.4 653.0,1382.5C654.7,1382.5 656.3,1382.5 658.0,1382.6C659.7,1382.6 661.3,1382.6 663.0,1382.7C664.7,1382.7 666.3,1382.8 668.0,1382.8C669.7,1382.8 671.3,1382.9 673.0,1382.9C674.7,1382.9 676.3,1383.0 678.0,1383.0C679.7,1383.0 681.3,1383.1 683.0,1383.1C684.7,1383.1 686.3,1383.2 688.0,1383.2C689.7,1383.3 691.3,1383.3 693.0,1383.3C694.7,1383.4 696.3,1383.4 698.0,1383.4C699.7,1383.5 701.3,1383.5 703.0,1383.5C704.7,1383.6 706.3,1383.6 708.0,1383.6C709.7,1383.7 711.3,1383.7 713.0,1383.7C714.7,1383.8 716.3,1383.8 718.0,1383.8C719.7,1383.9 721.3,1383.9 723.0,1383.9C724.7,1384.0 726.3,1384.0 728.0,1384.0C729.7,1384.1 731.3,1384.1 733.0,1384.1C734.7,1384.2 736.3,1384.2 738.0,1384.2C739.7,1384.2 741.3,1384.3 743.0,1384.3C744.7,1384.3 746.3,1384.4 748.0,1384.4C749.7,1384.4 751.3,1384.5 753.0,1384.5C754.7,1384.5 756.3,1384.6 758.0,1384.6C759.7,1384.6 761.3,1384.7 763.0,1384.7C764.7,1384.7 766.3,1384.7 768.0,1384.8C769.7,1384.8 771.3,1384.8 773.0,1384.9C774.7,1384.9 776.3,1384.9 778.0,1384.9C779.7,1385.0 781.3,1385.0 783.0,1385.0C784.7,1385.1 786.3,1385.1 788.0,1385.1C789.7,1385.2 791.3,1385.2 793.0,1385.2C794.7,1385.2 796.3,1385.3 798.0,1385.3C799.7,1385.3 801.3,1385.3 803.0,1385.4C804.7,1385.4 806.3,1385.4 808.0,1385.5C809.7,1385.5 811.3,1385.5 813.0,1385.5C814.7,1385.6 816.3,1385.6 818.0,1385.6C819.7,1385.6 821.3,1385.7 823.0,1385.7C824.7,1385.7 826.3,1385.8 828.0,1385.8C829.7,1385.8 831.3,1385.8 833.0,1385.9C834.7,1385.9 836.3,1385.9 838.0,1385.9C839.7,1386.0 841.3,1386.0 843.0,1386.0C844.7,1386.0 846.3,1386.1 848.0,1386.1C849.7,1386.1 851.3,1386.1 853.0,1386.2C854.7,1386.2 856.3,1386.2 858.0,1386.2C859.7,1386.3 861.3,1386.3 863.0,1386.3C864.7,1386.3 866.3,1386.4 868.0,1386.4C869.7,1386.4 871.3,1386.4 873.0,1386.5C874.7,1386.5 876.3,1386.5 878.0,1386.5C879.7,1386.5 881.3,1386.6 883.0,1386.6C884.7,1386.6 886.3,1386.6 888.0,1386.7C889.7,1386.7 891.3,1386.7 893.0,1386.7C894.7,1386.8 896.3,1386.8 898.0,1386.8C899.7,1386.8 901.3,1386.8 903.0,1386.9C904.7,1386.9 906.3,1386.9 908.0,1386.9C909.7,1386.9 911.3,1387.0 913.0,1387.0C914.7,1387.0 916.3,1387.0 918.0,1387.1C919.7,1387.1 921.3,1387.1 923.0,1387.1C924.7,1387.1 926.3,1387.2 928.0,1387.2C929.7,1387.2 931.3,1387.2 933.0,1387.2C934.7,1387.3 936.3,1387.3 938.0,1387.3C939.7,1387.3 941.3,1387.3 943.0,1387.4C944.7,1387.4 946.3,1387.4 948.0,1387.4C949.7,1387.4 951.3,1387.5 953.0,1387.5C954.7,1387.5 956.3,1387.5 958.0,1387.5C959.7,1387.6 961.3,1387.6 963.0,1387.6C964.7,1387.6 966.3,1387.6 968.0,1387.6C969.7,1387.7 971.3,1387.7 973.0,1387.7C974.7,1387.7 976.3,1387.7 978.0,1387.8C979.7,1387.8 981.3,1387.8 983.0,1387.8C984.7,1387.8 986.3,1387.8 988.0,1387.9C989.7,1387.9 991.3,1387.9 993.0,1387.9C994.7,1387.9 996.3,1387.9 998.0,1388.0C999.7,1388.0 1001.3,1388.0 1003.0,1388.0C1004.7,1388.0 1006.3,1388.0 1008.0,1388.1C1009.7,1388.1 1011.3,1388.1 1013.0,1388.1C1014.7,1388.1 1016.3,1388.1 1018.0,1388.2C1019.7,1388.2 1021.3,1388.2 1023.0,1388.2C1024.7,1388.2 1026.3,1388.2 1028.0,1388.2C1029.7,1388.3 1031.3,1388.3 1033.0,1388.3C1034.7,1388.3 1036.3,1388.3 1038.0,1388.3C1039.7,1388.4 1041.3,1388.4 1043.0,1388.4C1044.7,1388.4 1046.3,1388.4 1048.0,1388.4C1049.7,1388.4 1051.3,1388.5 1053.0,1388.5C1054.7,1388.5 1056.3,1388.5 1058.0,1388.5C1059.7,1388.5 1061.3,1388.5 1063.0,1388.5C1064.7,1388.6 1066.3,1388.6 1068.0,1388.6C1069.7,1388.6 1071.3,1388.6 1073.0,1388.6C1074.7,1388.6 1076.3,1388.7 1078.0,1388.7C1079.7,1388.7 1081.3,1388.7 1083.0,1388.7C1084.7,1388.7 1086.3,1388.7 1088.0,1388.7C1089.7,1388.8 1091.3,1388.8 1093.0,1388.8C1094.7,1388.8 1096.3,1388.8 1098.0,1388.8C1099.7,1388.8 1101.3,1388.8 1103.0,1388.8C1104.7,1388.9 1106.3,1388.9 1108.0,1388.9C1109.7,1388.9 1111.3,1388.9 1113.0,1388.9C1114.7,1388.9 1116.3,1388.9 1118.0,1388.9C1119.7,1389.0 1121.3,1389.0 1123.0,1389.0C1124.7,1389.0 1126.3,1389.0 1128.0,1389.0C1129.7,1389.0 1131.3,1389.0 1133.0,1389.0C1134.7,1389.1 1136.3,1389.1 1138.0,1389.1C1139.7,1389.1 1141.3,1389.1 1143.0,1389.1C1144.7,1389.1 1146.3,1389.1 1148.0,1389.1C1149.7,1389.1 1151.3,1389.1 1153.0,1389.2C1154.7,1389.2 1156.3,1389.2 1158.0,1389.2C1159.7,1389.2 1161.3,1389.2 1163.0,1389.2C1164.7,1389.2 1166.3,1389.2 1168.0,1389.2C1169.7,1389.2 1171.3,1389.3 1173.0,1389.3C1174.7,1389.3 1176.3,1389.3 1178.0,1389.3C1179.7,1389.3 1181.3,1389.3 1183.0,1389.3C1184.7,1389.3 1186.3,1389.3 1188.0,1389.3C1189.7,1389.3 1191.3,1389.3 1193.0,1389.4C1194.7,1389.4 1196.3,1389.4 1198.0,1389.4C1199.7,1389.4 1201.3,1389.4 1203.0,1389.4C1204.7,1389.4 1206.3,1389.4 1208.0,1389.4C1209.7,1389.4 1211.3,1389.4 1213.0,1389.4C1214.7,1389.4 1216.3,1389.5 1218.0,1389.5C1219.7,1389.5 1221.3,1389.5 1223.0,1389.5C1224.7,1389.5 1226.3,1389.5 1228.0,1389.5C1229.7,1389.5 1231.3,1389.5 1233.0,1389.5C1234.7,1389.5 1236.3,1389.5 1238.0,1389.5C1239.7,1389.5 1241.3,1389.5 1243.0,1389.5C1244.7,1389.6 1246.3,1389.6 1248.0,1389.6C1249.7,1389.6 1251.3,1389.6 1253.0,1389.6C1254.7,1389.6 1256.3,1389.6 1258.0,1389.6C1259.7,1389.6 1261.3,1389.6 1263.0,1389.6C1264.7,1389.6 1266.3,1389.6 1268.0,1389.6C1269.7,1389.6 1271.3,1389.6 1273.0,1389.6C1274.7,1389.6 1276.3,1389.6 1278.0,1389.6C1279.7,1389.6 1281.3,1389.6 1283.0,1389.7C1284.7,1389.7 1286.3,1389.7 1288.0,1389.7C1289.7,1389.7 1291.3,1389.7 1293.0,1389.7C1294.7,1389.7 1296.3,1389.7 1298.0,1389.7C1299.7,1389.7 1301.3,1389.7 1303.0,1389.7C1304.7,1389.7 1306.3,1389.7 1308.0,1389.7C1309.7,1389.7 1311.3,1389.7 1313.0,1389.7C1314.7,1389.7 1316.3,1389.7 1318.0,1389.7C1319.7,1389.7 1321.3,1389.7 1323.0,1389.7C1324.7,1389.7 1326.3,1389.7 1328.0,1389.7C1329.7,1389.7 1331.3,1389.7 1333.0,1389.7C1334.7,1389.7 1336.3,1389.7 1338.0,1389.7C1339.7,1389.7 1341.3,1389.7 1343.0,1389.7C1344.7,1389.7 1346.3,1389.7 1348.0,1389.7C1349.7,1389.7 1351.3,1389.7 1353.0,1389.7C1354.7,1389.7 1356.3,1389.7 1358.0,1389.7C1359.7,1389.8 1361.3,1389.8 1363.0,1389.8C1364.7,1389.8 1366.3,1389.8 1368.0,1389.8C1369.7,1389.8 1371.3,1389.8 1373.0,1389.8C1374.7,1389.8 1376.3,1389.8 1378.0,1389.8C1379.7,1389.8 1381.3,1389.8 1383.0,1389.8C1384.7,1389.8 1386.3,1389.8 1388.0,1389.8C1389.7,1389.8 1391.3,1389.8 1393.0,1389.8C1394.7,1389.8 1396.3,1389.8 1398.0,1389.8C1399.7,1389.7 1401.3,1389.7 1403.0,1389.7C1404.7,1389.7 1406.3,1389.7 1408.0,1389.7C1409.7,1389.7 1411.3,1389.7 1413.0,1389.7C1414.7,1389.7 1416.3,1389.7 1418.0,1389.7C1419.7,1389.7 1421.3,1389.7 1423.0,1389.7C1424.7,1389.7 1426.3,1389.7 1428.0,1389.7C1429.7,1389.7 1431.3,1389.7 1433.0,1389.7C1434.7,1389.7 1436.3,1389.7 1438.0,1389.7C1439.7,1389.7 1441.3,1389.7 1443.0,1389.7C1444.7,1389.7 1446.3,1389.7 1448.0,1389.7C1449.7,1389.7 1451.3,1389.7 1453.0,1389.7C1454.7,1389.7 1456.3,1389.7 1458.0,1389.7C1459.7,1389.7 1461.3,1389.7 1463.0,1389.7C1464.7,1389.7 1466.3,1389.7 1468.0,1389.7C1469.7,1389.7 1471.3,1389.7 1473.0,1389.6C1474.7,1389.6 1476.3,1389.6 1478.0,1389.6C1479.7,1389.6 1481.3,1389.6 1483.0,1389.6C1484.7,1389.6 1486.3,1389.6 1488.0,1389.6C1489.7,1389.6 1491.3,1389.6 1493.0,1389.6C1494.7,1389.6 1496.3,1389.6 1498.0,1389.6C1499.7,1389.6 1501.3,1389.6 1503.0,1389.6C1504.7,1389.5 1506.3,1389.5 1508.0,1389.5C1509.7,1389.5 1511.3,1389.5 1513.0,1389.5C1514.7,1389.5 1516.3,1389.5 1518.0,1389.5C1519.7,1389.5 1521.3,1389.5 1523.0,1389.5C1524.7,1389.5 1526.3,1389.5 1528.0,1389.4C1529.7,1389.4 1531.3,1389.4 1533.0,1389.4C1534.7,1389.4 1536.3,1389.4 1538.0,1389.4C1539.7,1389.4 1541.3,1389.4 1543.0,1389.4C1544.7,1389.4 1546.3,1389.4 1548.0,1389.3C1549.7,1389.3 1551.3,1389.3 1553.0,1389.3C1554.7,1389.3 1556.3,1389.3 1558.0,1389.3C1559.7,1389.3 1561.3,1389.3 1563.0,1389.3C1564.7,1389.2 1566.3,1389.2 1568.0,1389.2C1569.7,1389.2 1571.3,1389.2 1573.0,1389.2C1574.7,1389.2 1576.3,1389.2 1578.0,1389.1C1579.7,1389.1 1581.3,1389.1 1583.0,1389.1C1584.7,1389.1 1586.3,1389.1 1588.0,1389.1C1589.7,1389.1 1591.3,1389.0 1593.0,1389.0C1594.7,1389.0 1596.3,1389.0 1598.0,1389.0C1599.7,1389.0 1601.3,1389.0 1603.0,1388.9C1604.7,1388.9 1606.3,1388.9 1608.0,1388.9C1609.7,1388.9 1611.3,1388.9 1613.0,1388.9C1614.7,1388.8 1616.3,1388.8 1618.0,1388.8C1619.7,1388.8 1621.3,1388.8 1623.0,1388.8C1624.7,1388.7 1626.3,1388.7 1628.0,1388.7C1629.7,1388.7 1631.3,1388.7 1633.0,1388.7C1634.7,1388.6 1636.3,1388.6 1638.0,1388.6C1639.7,1388.6 1641.3,1388.6 1643.0,1388.5C1644.7,1388.5 1646.3,1388.5 1648.0,1388.5C1649.7,1388.5 1651.3,1388.4 1653.0,1388.4C1654.7,1388.4 1656.3,1388.4 1658.0,1388.4C1659.7,1388.3 1661.3,1388.3 1663.0,1388.3C1664.7,1388.3 1666.3,1388.3 1668.0,1388.2C1669.7,1388.2 1671.3,1388.2 1673.0,1388.2C1674.7,1388.1 1676.3,1388.1 1678.0,1388.1C1679.7,1388.1 1681.3,1388.0 1683.0,1388.0C1684.7,1388.0 1686.3,1388.0 1688.0,1387.9C1689.7,1387.9 1691.3,1387.9 1693.0,1387.9C1694.7,1387.8 1696.3,1387.8 1698.0,1387.8C1699.7,1387.8 1701.3,1387.7 1703.0,1387.7C1704.7,1387.7 1706.3,1387.7 1708.0,1387.6C1709.7,1387.6 1711.3,1387.6 1713.0,1387.6C1714.7,1387.5 1716.3,1387.5 1718.0,1387.5C1719.7,1387.4 1721.3,1387.4 1723.0,1387.4C1724.7,1387.3 1726.3,1387.3 1728.0,1387.3C1729.7,1387.3 1731.3,1387.2 1733.0,1387.2C1734.7,1387.2 1736.3,1387.1 1738.0,1387.1C1739.7,1387.1 1741.3,1387.0 1743.0,1387.0C1744.7,1387.0 1746.3,1386.9 1748.0,1386.9C1749.7,1386.9 1751.3,1386.8 1753.0,1386.8C1754.7,1386.8 1756.3,1386.7 1758.0,1386.7C1759.7,1386.6 1761.3,1386.6 1763.0,1386.6C1764.7,1386.5 1766.3,1386.4 1768.0,1386.4C1769.7,1386.3 1771.3,1386.3 1773.0,1386.2C1774.7,1386.1 1776.3,1386.0 1778.0,1385.9C1779.7,1385.8 1781.3,1385.7 1783.0,1385.6C1784.7,1385.5 1786.3,1385.4 1788.0,1385.3C1789.7,1385.1 1791.3,1385.0 1793.0,1384.8C1794.7,1384.7 1796.3,1384.5 1798.0,1384.3C1799.7,1384.1 1801.3,1383.9 1803.0,1383.7C1804.7,1383.5 1806.3,1383.3 1808.0,1383.0C1809.7,1382.8 1811.3,1382.5 1813.0,1382.2C1814.7,1381.9 1816.3,1381.6 1818.0,1381.3C1819.7,1381.0 1821.3,1380.6 1823.0,1380.3C1824.7,1379.9 1826.3,1379.5 1828.0,1379.1C1829.7,1378.7 1831.3,1378.3 1833.0,1377.8C1834.7,1377.4 1836.3,1376.9 1838.0,1376.4C1839.7,1375.9 1841.3,1375.4 1843.0,1374.8C1844.7,1374.2 1846.3,1373.7 1848.0,1373.0C1849.7,1372.4 1851.3,1371.8 1853.0,1371.1C1854.7,1370.5 1856.3,1369.8 1858.0,1369.0C1859.7,1368.3 1861.3,1367.5 1863.0,1366.7C1864.7,1365.9 1866.3,1365.1 1868.0,1364.2C1869.7,1363.3 1871.3,1362.4 1873.0,1361.4C1874.7,1360.5 1876.3,1359.5 1878.0,1358.4C1879.7,1357.3 1881.3,1356.2 1883.0,1355.1C1884.7,1354.0 1886.3,1352.8 1888.0,1351.6C1889.7,1350.5 1891.3,1349.3 1893.0,1348.0C1894.7,1346.8 1896.3,1345.6 1898.0,1344.3C1899.7,1343.1 1901.3,1341.8 1903.0,1340.6C1904.7,1339.4 1906.3,1338.1 1908.0,1336.9C1909.7,1335.6 1911.3,1334.4 1913.0,1333.2C1914.7,1331.9 1916.3,1330.7 1918.0,1329.5C1919.7,1328.2 1921.3,1327.0 1923.0,1325.8C1924.7,1324.6 1926.3,1323.3 1928.0,1322.1C1929.7,1320.9 1931.3,1319.6 1933.0,1318.4C1934.7,1317.2 1936.3,1316.0 1938.0,1314.8C1939.7,1313.5 1941.3,1312.3 1943.0,1311.1C1944.7,1309.9 1946.3,1308.7 1948.0,1307.4C1949.7,1306.2 1951.3,1305.0 1953.0,1303.8C1954.7,1302.6 1956.3,1301.3 1958.0,1300.1C1959.7,1298.9 1961.3,1297.7 1963.0,1296.5C1964.7,1295.3 1966.3,1294.0 1968.0,1292.8C1969.7,1291.6 1971.3,1290.4 1973.0,1289.2C1974.7,1288.0 1976.3,1286.8 1978.0,1285.5C1979.7,1284.3 1981.3,1283.1 1983.0,1281.9C1984.7,1280.7 1986.3,1279.5 1988.0,1278.3C1989.7,1277.1 1991.3,1275.9 1993.0,1274.7C1994.7,1273.5 1996.3,1272.3 1998.0,1271.1C1999.7,1269.9 2001.3,1268.7 2003.0,1267.5C2004.7,1266.4 2006.3,1265.2 2008.0,1264.0C2009.7,1262.8 2011.3,1261.7 2013.0,1260.5C2014.7,1259.4 2016.3,1258.2 2018.0,1257.1C2019.7,1255.9 2021.3,1254.8 2023.0,1253.7C2024.7,1252.6 2026.3,1251.4 2028.0,1250.3C2029.7,1249.2 2031.3,1248.1 2033.0,1247.0C2034.7,1245.9 2036.3,1244.9 2038.0,1243.8C2039.7,1242.7 2041.3,1241.7 2043.0,1240.6C2044.7,1239.6 2046.3,1238.6 2048.0,1237.5C2049.7,1236.5 2051.3,1235.5 2053.0,1234.5C2054.7,1233.5 2056.3,1232.5 2058.0,1231.6C2059.7,1230.6 2061.3,1229.7 2063.0,1228.7C2064.7,1227.8 2066.3,1226.9 2068.0,1226.0C2069.7,1225.0 2071.3,1224.2 2073.0,1223.3C2074.7,1222.4 2076.3,1221.5 2078.0,1220.7C2079.7,1219.9 2081.3,1219.0 2083.0,1218.2C2084.7,1217.4 2086.3,1216.6 2088.0,1215.8C2089.7,1215.0 2091.3,1214.3 2093.0,1213.5C2094.7,1212.7 2096.3,1212.0 2098.0,1211.3C2099.7,1210.6 2101.3,1209.8 2103.0,1209.1C2104.7,1208.4 2106.3,1207.8 2108.0,1207.1C2109.7,1206.4 2111.3,1205.8 2113.0,1205.1C2114.7,1204.5 2116.3,1203.9 2118.0,1203.2C2119.7,1202.6 2121.3,1202.0 2123.0,1201.4C2124.7,1200.8 2126.3,1200.3 2128.0,1199.7C2129.7,1199.1 2131.3,1198.6 2133.0,1198.0C2134.7,1197.5 2136.3,1197.0 2138.0,1196.5C2139.7,1196.0 2141.3,1195.5 2143.0,1195.0C2144.7,1194.5 2146.3,1194.0 2148.0,1193.5C2149.7,1193.1 2151.3,1192.6 2153.0,1192.2C2154.7,1191.7 2156.3,1191.3 2158.0,1190.9C2159.7,1190.4 2161.3,1190.0 2163.0,1189.6C2164.7,1189.2 2166.3,1188.9 2168.0,1188.5C2169.7,1188.1 2171.3,1187.7 2173.0,1187.4C2174.7,1187.0 2176.3,1186.7 2178.0,1186.3C2179.7,1186.0 2181.3,1185.7 2183.0,1185.4C2184.7,1185.0 2186.3,1184.7 2188.0,1184.4C2189.7,1184.2 2191.3,1183.9 2193.0,1183.6C2194.7,1183.3 2196.3,1183.0 2198.0,1182.8C2199.7,1182.5 2201.3,1182.3 2203.0,1182.0C2204.7,1181.8 2206.3,1181.6 2208.0,1181.3C2209.7,1181.1 2211.3,1180.9 2213.0,1180.7C2214.7,1180.5 2216.3,1180.3 2218.0,1180.1C2219.7,1179.9 2221.3,1179.7 2223.0,1179.5C2224.7,1179.4 2226.3,1179.2 2228.0,1179.0C2229.7,1178.9 2231.3,1178.7 2233.0,1178.6C2234.7,1178.4 2236.3,1178.3 2238.0,1178.2C2239.7,1178.0 2241.3,1177.9 2243.0,1177.8C2244.7,1177.7 2246.3,1177.6 2248.0,1177.5C2249.7,1177.4 2251.3,1177.3 2253.0,1177.2C2254.7,1177.1 2256.3,1177.0 2258.0,1176.9C2259.7,1176.9 2261.3,1176.8 2263.0,1176.7C2264.7,1176.6 2266.3,1176.6 2268.0,1176.5C2269.7,1176.5 2271.3,1176.4 2273.0,1176.4C2274.7,1176.3 2276.3,1176.3 2278.0,1176.3C2279.7,1176.2 2281.3,1176.2 2283.0,1176.2C2284.7,1176.1 2286.3,1176.1 2288.0,1176.1C2289.7,1176.1 2291.3,1176.1 2293.0,1176.1C2294.7,1176.1 2296.3,1176.0 2298.0,1176.0C2299.7,1176.0 2301.3,1176.0 2303.0,1176.1C2304.7,1176.1 2306.3,1176.1 2308.0,1176.1C2309.7,1176.1 2311.3,1176.1 2313.0,1176.1C2314.7,1176.2 2316.3,1176.2 2318.0,1176.2C2319.7,1176.2 2321.3,1176.3 2323.0,1176.3C2324.7,1176.3 2326.3,1176.4 2328.0,1176.4C2329.7,1176.4 2331.3,1176.5 2333.0,1176.5C2334.7,1176.5 2336.3,1176.6 2338.0,1176.6C2339.7,1176.7 2341.3,1176.7 2343.0,1176.8C2344.7,1176.8 2346.3,1176.9 2348.0,1176.9C2349.7,1177.0 2352.0,1177.0 2353.0,1177.1C2354.0,1177.1 2353.8,1177.1 2354.0,1177.1" stroke="#8ea35c" stroke-width="8.6"/>
<path id="n2" d="M443.0,1389.3C443.8,1389.2 446.3,1388.8 448.0,1388.5C449.7,1388.3 451.3,1388.0 453.0,1387.8C454.7,1387.5 456.3,1387.3 458.0,1387.1C459.7,1386.9 461.3,1386.6 463.0,1386.4C464.7,1386.2 466.3,1386.0 468.0,1385.9C469.7,1385.7 471.3,1385.5 473.0,1385.3C474.7,1385.1 476.3,1385.0 478.0,1384.8C479.7,1384.7 481.3,1384.5 483.0,1384.4C484.7,1384.2 486.3,1384.1 488.0,1384.0C489.7,1383.8 491.3,1383.7 493.0,1383.6C494.7,1383.5 496.3,1383.4 498.0,1383.2C499.7,1383.1 501.3,1383.0 503.0,1382.9C504.7,1382.9 506.3,1382.8 508.0,1382.7C509.7,1382.6 511.3,1382.5 513.0,1382.4C514.7,1382.4 516.3,1382.3 518.0,1382.2C519.7,1382.2 521.3,1382.1 523.0,1382.1C524.7,1382.0 526.3,1382.0 528.0,1381.9C529.7,1381.9 531.3,1381.8 533.0,1381.8C534.7,1381.7 536.3,1381.7 538.0,1381.7C539.7,1381.6 541.3,1381.6 543.0,1381.6C544.7,1381.6 546.3,1381.5 548.0,1381.5C549.7,1381.5 551.3,1381.5 553.0,1381.5C554.7,1381.4 556.3,1381.4 558.0,1381.4C559.7,1381.4 561.3,1381.4 563.0,1381.4C564.7,1381.4 566.3,1381.4 568.0,1381.4C569.7,1381.3 571.3,1381.3 573.0,1381.3C574.7,1381.3 576.3,1381.3 578.0,1381.3C579.7,1381.3 581.3,1381.3 583.0,1381.3C584.7,1381.3 586.3,1381.3 588.0,1381.3C589.7,1381.3 591.3,1381.3 593.0,1381.3C594.7,1381.3 596.3,1381.3 598.0,1381.3C599.7,1381.3 601.3,1381.3 603.0,1381.3C604.7,1381.2 606.3,1381.2 608.0,1381.2C609.7,1381.2 611.3,1381.2 613.0,1381.2C614.7,1381.2 616.3,1381.2 618.0,1381.1C619.7,1381.1 621.3,1381.1 623.0,1381.1C624.7,1381.0 626.3,1381.0 628.0,1381.0C629.7,1381.0 631.3,1380.9 633.0,1380.9C634.7,1380.9 636.3,1380.8 638.0,1380.8C639.7,1380.7 641.3,1380.7 643.0,1380.6C644.7,1380.6 646.3,1380.5 648.0,1380.5C649.7,1380.4 651.3,1380.3 653.0,1380.3C654.7,1380.2 656.3,1380.1 658.0,1380.1C659.7,1380.0 661.3,1379.9 663.0,1379.8C664.7,1379.7 666.3,1379.6 668.0,1379.5C669.7,1379.4 671.3,1379.3 673.0,1379.2C674.7,1379.1 676.3,1379.0 678.0,1378.9C679.7,1378.7 681.3,1378.6 683.0,1378.5C684.7,1378.3 686.3,1378.2 688.0,1378.0C689.7,1377.9 691.3,1377.7 693.0,1377.6C694.7,1377.4 696.3,1377.2 698.0,1377.0C699.7,1376.8 701.3,1376.7 703.0,1376.5C704.7,1376.3 706.3,1376.1 708.0,1375.8C709.7,1375.6 711.3,1375.4 713.0,1375.2C714.7,1374.9 716.3,1374.7 718.0,1374.5C719.7,1374.2 721.3,1374.0 723.0,1373.7C724.7,1373.4 726.3,1373.1 728.0,1372.9C729.7,1372.6 731.3,1372.3 733.0,1372.0C734.7,1371.7 736.3,1371.4 738.0,1371.1C739.7,1370.8 741.3,1370.5 743.0,1370.1C744.7,1369.8 746.3,1369.5 748.0,1369.2C749.7,1368.8 751.3,1368.5 753.0,1368.2C754.7,1367.8 756.3,1367.5 758.0,1367.2C759.7,1366.8 761.3,1366.5 763.0,1366.1C764.7,1365.8 766.3,1365.4 768.0,1365.1C769.7,1364.7 771.3,1364.4 773.0,1364.0C774.7,1363.6 776.3,1363.3 778.0,1362.9C779.7,1362.6 781.3,1362.2 783.0,1361.9C784.7,1361.5 786.3,1361.2 788.0,1360.8C789.7,1360.4 791.3,1360.1 793.0,1359.7C794.7,1359.4 796.3,1359.1 798.0,1358.7C799.7,1358.4 801.3,1358.0 803.0,1357.7C804.7,1357.3 806.3,1357.0 808.0,1356.7C809.7,1356.4 811.3,1356.0 813.0,1355.7C814.7,1355.4 816.3,1355.1 818.0,1354.8C819.7,1354.5 821.3,1354.2 823.0,1353.9C824.7,1353.6 826.3,1353.3 828.0,1353.0C829.7,1352.7 831.3,1352.4 833.0,1352.2C834.7,1351.9 836.3,1351.6 838.0,1351.4C839.7,1351.2 841.3,1350.9 843.0,1350.7C844.7,1350.5 846.3,1350.2 848.0,1350.0C849.7,1349.8 851.3,1349.6 853.0,1349.4C854.7,1349.2 856.3,1349.1 858.0,1348.9C859.7,1348.7 861.3,1348.6 863.0,1348.4C864.7,1348.3 866.3,1348.2 868.0,1348.0C869.7,1347.9 871.3,1347.8 873.0,1347.7C874.7,1347.6 876.3,1347.5 878.0,1347.4C879.7,1347.4 881.3,1347.3 883.0,1347.2C884.7,1347.1 886.3,1347.0 888.0,1346.9C889.7,1346.8 891.3,1346.7 893.0,1346.6C894.7,1346.5 896.3,1346.4 898.0,1346.3C899.7,1346.1 901.3,1346.0 903.0,1345.8C904.7,1345.6 906.3,1345.4 908.0,1345.2C909.7,1345.0 911.3,1344.8 913.0,1344.5C914.7,1344.2 916.3,1343.9 918.0,1343.6C919.7,1343.3 921.3,1342.9 923.0,1342.5C924.7,1342.1 926.3,1341.6 928.0,1341.2C929.7,1340.7 931.3,1340.1 933.0,1339.6C934.7,1339.0 936.3,1338.4 938.0,1337.7C939.7,1337.0 941.3,1336.3 943.0,1335.5C944.7,1334.7 946.3,1333.9 948.0,1333.0C949.7,1332.1 951.3,1331.1 953.0,1330.1C954.7,1329.1 956.3,1328.0 958.0,1326.9C959.7,1325.7 961.3,1324.5 963.0,1323.3C964.7,1322.1 966.3,1320.8 968.0,1319.4C969.7,1318.1 971.3,1316.7 973.0,1315.3C974.7,1313.9 976.3,1312.4 978.0,1311.0C979.7,1309.5 981.3,1308.0 983.0,1306.4C984.7,1304.9 986.3,1303.3 988.0,1301.7C989.7,1300.1 991.3,1298.5 993.0,1296.9C994.7,1295.2 996.3,1293.6 998.0,1291.9C999.7,1290.3 1001.3,1288.6 1003.0,1286.9C1004.7,1285.2 1006.3,1283.6 1008.0,1281.9C1009.7,1280.2 1011.3,1278.5 1013.0,1276.8C1014.7,1275.2 1016.3,1273.5 1018.0,1271.8C1019.7,1270.2 1021.3,1268.5 1023.0,1266.9C1024.7,1265.2 1026.3,1263.6 1028.0,1262.0C1029.7,1260.4 1031.3,1258.7 1033.0,1257.2C1034.7,1255.6 1036.3,1254.0 1038.0,1252.5C1039.7,1250.9 1041.3,1249.4 1043.0,1247.9C1044.7,1246.4 1046.3,1244.9 1048.0,1243.4C1049.7,1242.0 1051.3,1240.5 1053.0,1239.1C1054.7,1237.7 1056.3,1236.3 1058.0,1235.0C1059.7,1233.6 1061.3,1232.3 1063.0,1231.0C1064.7,1229.7 1066.3,1228.4 1068.0,1227.2C1069.7,1226.0 1071.3,1224.8 1073.0,1223.6C1074.7,1222.5 1076.3,1221.4 1078.0,1220.3C1079.7,1219.2 1081.3,1218.1 1083.0,1217.1C1084.7,1216.1 1086.3,1215.2 1088.0,1214.3C1089.7,1213.4 1091.3,1212.5 1093.0,1211.7C1094.7,1210.8 1096.3,1210.0 1098.0,1209.3C1099.7,1208.6 1101.3,1207.9 1103.0,1207.3C1104.7,1206.6 1106.3,1206.0 1108.0,1205.5C1109.7,1205.0 1111.3,1204.5 1113.0,1204.1C1114.7,1203.7 1116.3,1203.3 1118.0,1203.0C1119.7,1202.7 1121.3,1202.5 1123.0,1202.3C1124.7,1202.1 1126.3,1201.9 1128.0,1201.8C1129.7,1201.7 1131.3,1201.6 1133.0,1201.6C1134.7,1201.5 1136.3,1201.6 1138.0,1201.6C1139.7,1201.6 1141.3,1201.7 1143.0,1201.7C1144.7,1201.8 1146.3,1201.9 1148.0,1202.0C1149.7,1202.1 1151.3,1202.2 1153.0,1202.3C1154.7,1202.4 1156.3,1202.6 1158.0,1202.7C1159.7,1202.8 1161.3,1202.9 1163.0,1203.0C1164.7,1203.1 1166.3,1203.2 1168.0,1203.3C1169.7,1203.4 1171.3,1203.4 1173.0,1203.5C1174.7,1203.5 1176.3,1203.5 1178.0,1203.5C1179.7,1203.4 1181.3,1203.4 1183.0,1203.3C1184.7,1203.2 1186.3,1203.1 1188.0,1202.9C1189.7,1202.8 1191.3,1202.6 1193.0,1202.4C1194.7,1202.2 1196.3,1201.9 1198.0,1201.6C1199.7,1201.4 1201.3,1201.1 1203.0,1200.8C1204.7,1200.4 1206.3,1200.1 1208.0,1199.7C1209.7,1199.4 1211.3,1199.0 1213.0,1198.6C1214.7,1198.2 1216.3,1197.8 1218.0,1197.3C1219.7,1196.9 1221.3,1196.5 1223.0,1196.0C1224.7,1195.5 1226.3,1195.1 1228.0,1194.6C1229.7,1194.1 1231.3,1193.6 1233.0,1193.1C1234.7,1192.6 1236.3,1192.1 1238.0,1191.6C1239.7,1191.1 1241.3,1190.6 1243.0,1190.1C1244.7,1189.5 1246.3,1189.0 1248.0,1188.5C1249.7,1188.0 1251.3,1187.5 1253.0,1187.0C1254.7,1186.5 1256.3,1185.9 1258.0,1185.4C1259.7,1184.9 1261.3,1184.4 1263.0,1183.9C1264.7,1183.4 1266.3,1182.8 1268.0,1182.3C1269.7,1181.8 1271.3,1181.3 1273.0,1180.8C1274.7,1180.2 1276.3,1179.7 1278.0,1179.2C1279.7,1178.7 1281.3,1178.1 1283.0,1177.6C1284.7,1177.1 1286.3,1176.5 1288.0,1176.0C1289.7,1175.5 1291.3,1174.9 1293.0,1174.4C1294.7,1173.8 1296.3,1173.3 1298.0,1172.7C1299.7,1172.2 1301.3,1171.6 1303.0,1171.1C1304.7,1170.5 1306.3,1169.9 1308.0,1169.4C1309.7,1168.8 1311.3,1168.2 1313.0,1167.6C1314.7,1167.1 1316.3,1166.5 1318.0,1165.9C1319.7,1165.3 1321.3,1164.7 1323.0,1164.1C1324.7,1163.5 1326.3,1162.9 1328.0,1162.3C1329.7,1161.7 1331.3,1161.0 1333.0,1160.4C1334.7,1159.8 1336.3,1159.1 1338.0,1158.5C1339.7,1157.9 1341.3,1157.2 1343.0,1156.5C1344.7,1155.9 1346.3,1155.2 1348.0,1154.5C1349.7,1153.9 1351.3,1153.2 1353.0,1152.5C1354.7,1151.8 1356.3,1151.1 1358.0,1150.4C1359.7,1149.7 1361.3,1149.0 1363.0,1148.2C1364.7,1147.5 1366.3,1146.8 1368.0,1146.0C1369.7,1145.3 1371.3,1144.6 1373.0,1143.8C1374.7,1143.1 1376.3,1142.3 1378.0,1141.5C1379.7,1140.8 1381.3,1140.0 1383.0,1139.2C1384.7,1138.5 1386.3,1137.7 1388.0,1136.9C1389.7,1136.1 1391.3,1135.3 1393.0,1134.5C1394.7,1133.7 1396.3,1132.9 1398.0,1132.1C1399.7,1131.3 1401.3,1130.5 1403.0,1129.7C1404.7,1128.9 1406.3,1128.0 1408.0,1127.2C1409.7,1126.4 1411.3,1125.6 1413.0,1124.7C1414.7,1123.9 1416.3,1123.1 1418.0,1122.2C1419.7,1121.4 1421.3,1120.5 1423.0,1119.7C1424.7,1118.8 1426.3,1118.0 1428.0,1117.1C1429.7,1116.3 1431.3,1115.4 1433.0,1114.6C1434.7,1113.7 1436.3,1112.9 1438.0,1112.0C1439.7,1111.1 1441.3,1110.3 1443.0,1109.4C1444.7,1108.5 1446.3,1107.7 1448.0,1106.8C1449.7,1105.9 1451.3,1105.1 1453.0,1104.2C1454.7,1103.3 1456.3,1102.4 1458.0,1101.6C1459.7,1100.7 1461.3,1099.8 1463.0,1099.0C1464.7,1098.1 1466.3,1097.2 1468.0,1096.3C1469.7,1095.5 1471.3,1094.6 1473.0,1093.7C1474.7,1092.8 1476.3,1092.0 1478.0,1091.1C1479.7,1090.2 1481.3,1089.4 1483.0,1088.5C1484.7,1087.6 1486.3,1086.7 1488.0,1085.9C1489.7,1085.0 1491.3,1084.1 1493.0,1083.3C1494.7,1082.4 1496.3,1081.6 1498.0,1080.7C1499.7,1079.8 1501.3,1079.0 1503.0,1078.1C1504.7,1077.3 1506.3,1076.4 1508.0,1075.6C1509.7,1074.7 1511.3,1073.9 1513.0,1073.0C1514.7,1072.2 1516.3,1071.3 1518.0,1070.5C1519.7,1069.7 1521.3,1068.8 1523.0,1068.0C1524.7,1067.2 1526.3,1066.3 1528.0,1065.5C1529.7,1064.7 1531.3,1063.9 1533.0,1063.1C1534.7,1062.2 1536.3,1061.4 1538.0,1060.6C1539.7,1059.8 1541.3,1059.0 1543.0,1058.2C1544.7,1057.4 1546.3,1056.6 1548.0,1055.9C1549.7,1055.1 1551.3,1054.3 1553.0,1053.5C1554.7,1052.8 1556.3,1052.0 1558.0,1051.2C1559.7,1050.5 1561.3,1049.7 1563.0,1049.0C1564.7,1048.2 1566.3,1047.5 1568.0,1046.8C1569.7,1046.0 1571.3,1045.3 1573.0,1044.6C1574.7,1043.9 1576.3,1043.1 1578.0,1042.4C1579.7,1041.7 1581.3,1041.0 1583.0,1040.4C1584.7,1039.7 1586.3,1039.0 1588.0,1038.3C1589.7,1037.7 1591.3,1037.0 1593.0,1036.4C1594.7,1035.7 1596.3,1035.1 1598.0,1034.5C1599.7,1033.9 1601.3,1033.3 1603.0,1032.7C1604.7,1032.1 1606.3,1031.6 1608.0,1031.0C1609.7,1030.5 1611.3,1029.9 1613.0,1029.4C1614.7,1028.9 1616.3,1028.4 1618.0,1028.0C1619.7,1027.5 1621.3,1027.0 1623.0,1026.6C1624.7,1026.2 1626.3,1025.8 1628.0,1025.4C1629.7,1025.0 1631.3,1024.6 1633.0,1024.3C1634.7,1024.0 1636.3,1023.7 1638.0,1023.4C1639.7,1023.1 1641.3,1022.9 1643.0,1022.6C1644.7,1022.4 1646.3,1022.2 1648.0,1022.0C1649.7,1021.8 1651.3,1021.6 1653.0,1021.4C1654.7,1021.3 1656.3,1021.1 1658.0,1021.0C1659.7,1020.9 1661.3,1020.8 1663.0,1020.7C1664.7,1020.5 1666.3,1020.4 1668.0,1020.4C1669.7,1020.3 1671.3,1020.2 1673.0,1020.1C1674.7,1020.0 1676.3,1019.9 1678.0,1019.8C1679.7,1019.8 1681.3,1019.7 1683.0,1019.6C1684.7,1019.5 1686.3,1019.4 1688.0,1019.3C1689.7,1019.2 1691.3,1019.1 1693.0,1019.0C1694.7,1018.9 1696.3,1018.8 1698.0,1018.7C1699.7,1018.5 1701.3,1018.4 1703.0,1018.2C1704.7,1018.1 1706.3,1017.9 1708.0,1017.7C1709.7,1017.5 1711.3,1017.3 1713.0,1017.0C1714.7,1016.8 1716.3,1016.5 1718.0,1016.2C1719.7,1016.0 1721.3,1015.7 1723.0,1015.3C1724.7,1015.0 1726.3,1014.7 1728.0,1014.3C1729.7,1014.0 1731.3,1013.6 1733.0,1013.3C1734.7,1012.9 1736.3,1012.5 1738.0,1012.1C1739.7,1011.7 1741.3,1011.3 1743.0,1010.9C1744.7,1010.5 1746.3,1010.1 1748.0,1009.7C1749.7,1009.3 1751.3,1008.8 1753.0,1008.4C1754.7,1008.0 1756.3,1007.6 1758.0,1007.2C1759.7,1006.8 1761.3,1006.4 1763.0,1006.0C1764.7,1005.6 1766.3,1005.2 1768.0,1004.8C1769.7,1004.4 1771.3,1004.0 1773.0,1003.7C1774.7,1003.3 1776.3,1002.9 1778.0,1002.6C1779.7,1002.3 1781.3,1002.0 1783.0,1001.7C1784.7,1001.4 1786.3,1001.1 1788.0,1000.8C1789.7,1000.5 1791.3,1000.3 1793.0,1000.1C1794.7,999.9 1796.3,999.7 1798.0,999.5C1799.7,999.3 1801.3,999.2 1803.0,999.1C1804.7,999.0 1806.3,998.9 1808.0,998.8C1809.7,998.8 1811.3,998.8 1813.0,998.8C1814.7,998.8 1816.3,998.9 1818.0,998.9C1819.7,999.0 1821.3,999.2 1823.0,999.3C1824.7,999.5 1826.3,999.7 1828.0,999.9C1829.7,1000.1 1831.3,1000.4 1833.0,1000.7C1834.7,1001.0 1836.3,1001.3 1838.0,1001.7C1839.7,1002.1 1841.3,1002.5 1843.0,1002.9C1844.7,1003.4 1846.3,1003.8 1848.0,1004.3C1849.7,1004.8 1851.3,1005.4 1853.0,1006.0C1854.7,1006.5 1856.3,1007.1 1858.0,1007.8C1859.7,1008.4 1861.3,1009.1 1863.0,1009.8C1864.7,1010.5 1866.3,1011.3 1868.0,1012.1C1869.7,1012.8 1871.3,1013.6 1873.0,1014.5C1874.7,1015.3 1876.3,1016.2 1878.0,1017.1C1879.7,1018.0 1881.3,1019.0 1883.0,1020.0C1884.7,1021.0 1886.3,1022.0 1888.0,1023.0C1889.7,1024.1 1891.3,1025.1 1893.0,1026.2C1894.7,1027.3 1896.3,1028.5 1898.0,1029.6C1899.7,1030.8 1901.3,1032.0 1903.0,1033.2C1904.7,1034.4 1906.3,1035.7 1908.0,1036.9C1909.7,1038.2 1911.3,1039.5 1913.0,1040.8C1914.7,1042.1 1916.3,1043.4 1918.0,1044.7C1919.7,1046.1 1921.3,1047.4 1923.0,1048.8C1924.7,1050.2 1926.3,1051.5 1928.0,1052.9C1929.7,1054.3 1931.3,1055.7 1933.0,1057.1C1934.7,1058.6 1936.3,1060.0 1938.0,1061.4C1939.7,1062.8 1941.3,1064.3 1943.0,1065.7C1944.7,1067.1 1946.3,1068.6 1948.0,1070.0C1949.7,1071.5 1951.3,1072.9 1953.0,1074.4C1954.7,1075.8 1956.3,1077.2 1958.0,1078.7C1959.7,1080.1 1961.3,1081.6 1963.0,1083.0C1964.7,1084.5 1966.3,1085.9 1968.0,1087.4C1969.7,1088.8 1971.3,1090.3 1973.0,1091.7C1974.7,1093.2 1976.3,1094.6 1978.0,1096.1C1979.7,1097.5 1981.3,1099.0 1983.0,1100.4C1984.7,1101.9 1986.3,1103.4 1988.0,1104.8C1989.7,1106.3 1991.3,1107.8 1993.0,1109.3C1994.7,1110.8 1996.3,1112.2 1998.0,1113.7C1999.7,1115.2 2001.3,1116.7 2003.0,1118.2C2004.7,1119.7 2006.3,1121.3 2008.0,1122.8C2009.7,1124.3 2011.3,1125.8 2013.0,1127.4C2014.7,1128.9 2016.3,1130.4 2018.0,1132.0C2019.7,1133.6 2021.3,1135.1 2023.0,1136.7C2024.7,1138.3 2026.3,1139.8 2028.0,1141.4C2029.7,1143.0 2031.3,1144.6 2033.0,1146.2C2034.7,1147.8 2036.3,1149.4 2038.0,1151.0C2039.7,1152.6 2041.3,1154.2 2043.0,1155.8C2044.7,1157.4 2046.3,1159.0 2048.0,1160.6C2049.7,1162.2 2051.3,1163.8 2053.0,1165.4C2054.7,1166.9 2056.3,1168.5 2058.0,1170.1C2059.7,1171.7 2061.3,1173.3 2063.0,1174.8C2064.7,1176.4 2066.3,1177.9 2068.0,1179.5C2069.7,1181.0 2071.3,1182.5 2073.0,1184.1C2074.7,1185.6 2076.3,1187.1 2078.0,1188.6C2079.7,1190.1 2081.3,1191.6 2083.0,1193.0C2084.7,1194.5 2086.3,1195.9 2088.0,1197.3C2089.7,1198.8 2091.3,1200.2 2093.0,1201.6C2094.7,1202.9 2096.3,1204.3 2098.0,1205.7C2099.7,1207.0 2101.3,1208.4 2103.0,1209.7C2104.7,1211.0 2106.3,1212.3 2108.0,1213.6C2109.7,1214.9 2111.3,1216.1 2113.0,1217.4C2114.7,1218.7 2116.3,1219.9 2118.0,1221.1C2119.7,1222.3 2121.3,1223.5 2123.0,1224.7C2124.7,1225.9 2126.3,1227.1 2128.0,1228.2C2129.7,1229.4 2131.3,1230.5 2133.0,1231.7C2134.7,1232.8 2136.3,1233.9 2138.0,1235.0C2139.7,1236.1 2141.3,1237.2 2143.0,1238.2C2144.7,1239.3 2146.3,1240.3 2148.0,1241.4C2149.7,1242.4 2151.3,1243.4 2153.0,1244.4C2154.7,1245.4 2156.3,1246.4 2158.0,1247.4C2159.7,1248.4 2161.3,1249.4 2163.0,1250.3C2164.7,1251.3 2166.3,1252.2 2168.0,1253.1C2169.7,1254.1 2171.3,1255.0 2173.0,1255.9C2174.7,1256.8 2176.3,1257.7 2178.0,1258.6C2179.7,1259.5 2181.3,1260.4 2183.0,1261.3C2184.7,1262.2 2186.3,1263.0 2188.0,1263.9C2189.7,1264.8 2191.3,1265.6 2193.0,1266.5C2194.7,1267.3 2196.3,1268.2 2198.0,1269.0C2199.7,1269.9 2201.3,1270.7 2203.0,1271.6C2204.7,1272.4 2206.3,1273.3 2208.0,1274.1C2209.7,1274.9 2211.3,1275.8 2213.0,1276.6C2214.7,1277.4 2216.3,1278.3 2218.0,1279.1C2219.7,1280.0 2221.3,1280.8 2223.0,1281.6C2224.7,1282.5 2226.3,1283.3 2228.0,1284.2C2229.7,1285.0 2231.3,1285.9 2233.0,1286.7C2234.7,1287.6 2236.3,1288.4 2238.0,1289.3C2239.7,1290.2 2241.3,1291.0 2243.0,1291.9C2244.7,1292.8 2246.3,1293.7 2248.0,1294.6C2249.7,1295.5 2251.3,1296.4 2253.0,1297.3C2254.7,1298.2 2256.3,1299.1 2258.0,1300.0C2259.7,1300.9 2261.3,1301.9 2263.0,1302.8C2264.7,1303.7 2266.3,1304.7 2268.0,1305.6C2269.7,1306.6 2271.3,1307.5 2273.0,1308.5C2274.7,1309.4 2276.3,1310.4 2278.0,1311.3C2279.7,1312.3 2281.3,1313.3 2283.0,1314.2C2284.7,1315.2 2286.3,1316.1 2288.0,1317.1C2289.7,1318.0 2291.3,1318.9 2293.0,1319.9C2294.7,1320.8 2296.3,1321.8 2298.0,1322.7C2299.7,1323.6 2301.3,1324.5 2303.0,1325.5C2304.7,1326.4 2306.3,1327.3 2308.0,1328.2C2309.7,1329.1 2311.3,1330.0 2313.0,1330.8C2314.7,1331.7 2316.3,1332.6 2318.0,1333.4C2319.7,1334.3 2321.3,1335.1 2323.0,1335.9C2324.7,1336.7 2326.3,1337.6 2328.0,1338.3C2329.7,1339.1 2331.3,1339.9 2333.0,1340.7C2334.7,1341.4 2336.3,1342.2 2338.0,1342.9C2339.7,1343.6 2341.3,1344.3 2343.0,1345.0C2344.7,1345.6 2346.3,1346.3 2348.0,1346.9C2349.7,1347.5 2352.0,1348.4 2353.0,1348.7C2354.0,1349.1 2353.8,1349.0 2354.0,1349.1" stroke="#9fb3c8" stroke-width="7.9"/>
</g>
<g fill="none" stroke="#050505" stroke-width="9" stroke-dasharray="36.5 28 9.3 28.02" stroke-dashoffset="13.5">
<path d="M316,46.1 H1635.6 V1394"/>
<path d="M320.4,41.6 V1390"/>
<path d="M316,1389.7 H1640"/>
</g>
<g fill="none" stroke-linecap="butt" stroke-linejoin="round">
<path id="no" d="M443.3,625.1C444.1,625.1 446.6,625.2 448.3,625.3C450.0,625.4 451.6,625.5 453.3,625.6C455.0,625.6 456.6,625.7 458.3,625.8C460.0,625.9 461.6,626.0 463.3,626.0C465.0,626.1 466.6,626.2 468.3,626.2C470.0,626.3 471.6,626.4 473.3,626.5C475.0,626.5 476.6,626.6 478.3,626.7C480.0,626.7 481.6,626.8 483.3,626.9C485.0,626.9 486.6,627.0 488.3,627.1C490.0,627.1 491.6,627.2 493.3,627.2C495.0,627.3 496.6,627.4 498.3,627.4C500.0,627.5 501.6,627.6 503.3,627.6C505.0,627.7 506.6,627.8 508.3,627.8C510.0,627.9 511.6,627.9 513.3,628.0C515.0,628.1 516.6,628.1 518.3,628.2C520.0,628.3 521.6,628.3 523.3,628.4C525.0,628.5 526.6,628.5 528.3,628.6C530.0,628.7 531.6,628.7 533.3,628.8C535.0,628.9 536.6,628.9 538.3,629.0C540.0,629.1 541.6,629.1 543.3,629.2C545.0,629.3 546.6,629.3 548.3,629.4C550.0,629.5 551.6,629.5 553.3,629.6C555.0,629.7 556.6,629.8 558.3,629.8C560.0,629.9 561.6,630.0 563.3,630.1C565.0,630.2 566.6,630.2 568.3,630.3C570.0,630.4 571.6,630.5 573.3,630.6C575.0,630.7 576.6,630.7 578.3,630.8C580.0,630.9 581.6,631.0 583.3,631.1C585.0,631.2 586.6,631.3 588.3,631.4C590.0,631.5 591.6,631.6 593.3,631.7C595.0,631.8 596.6,631.9 598.3,632.0C600.0,632.1 601.6,632.2 603.3,632.3C605.0,632.4 606.6,632.5 608.3,632.7C610.0,632.8 611.6,632.9 613.3,633.0C615.0,633.1 616.6,633.3 618.3,633.4C620.0,633.5 621.6,633.6 623.3,633.8C625.0,633.9 626.6,634.0 628.3,634.2C630.0,634.3 631.6,634.5 633.3,634.6C635.0,634.8 636.6,634.9 638.3,635.1C640.0,635.2 641.6,635.4 643.3,635.5C645.0,635.7 646.6,635.8 648.3,636.0C650.0,636.2 651.6,636.3 653.3,636.5C655.0,636.7 656.6,636.9 658.3,637.1C660.0,637.2 661.6,637.4 663.3,637.6C665.0,637.8 666.6,638.0 668.3,638.2C670.0,638.4 671.6,638.6 673.3,638.8C675.0,639.0 676.6,639.2 678.3,639.4C680.0,639.6 681.6,639.9 683.3,640.1C685.0,640.3 686.6,640.5 688.3,640.8C690.0,641.0 691.6,641.2 693.3,641.5C695.0,641.7 696.6,642.0 698.3,642.2C700.0,642.5 701.6,642.7 703.3,643.0C705.0,643.3 706.6,643.5 708.3,643.8C710.0,644.1 711.6,644.3 713.3,644.6C715.0,644.9 716.6,645.2 718.3,645.5C720.0,645.8 721.6,646.1 723.3,646.4C725.0,646.7 726.6,647.0 728.3,647.3C730.0,647.6 731.6,648.0 733.3,648.3C735.0,648.6 736.6,649.0 738.3,649.3C740.0,649.6 741.6,650.0 743.3,650.3C745.0,650.7 746.6,651.0 748.3,651.4C750.0,651.8 751.6,652.1 753.3,652.5C755.0,652.9 756.6,653.3 758.3,653.7C760.0,654.1 761.6,654.5 763.3,654.9C765.0,655.3 766.6,655.7 768.3,656.1C770.0,656.5 771.6,656.9 773.3,657.4C775.0,657.8 776.6,658.2 778.3,658.7C780.0,659.1 781.6,659.6 783.3,660.0C785.0,660.5 786.6,661.0 788.3,661.4C790.0,661.9 791.6,662.4 793.3,662.9C795.0,663.3 796.6,663.8 798.3,664.3C800.0,664.8 801.6,665.3 803.3,665.8C805.0,666.4 806.6,666.9 808.3,667.4C810.0,667.9 811.6,668.5 813.3,669.0C815.0,669.5 816.6,670.1 818.3,670.6C820.0,671.2 821.6,671.7 823.3,672.3C825.0,672.9 826.6,673.4 828.3,674.0C830.0,674.6 831.6,675.2 833.3,675.8C835.0,676.4 836.6,677.0 838.3,677.6C840.0,678.2 841.6,678.8 843.3,679.4C845.0,680.0 846.6,680.7 848.3,681.3C850.0,681.9 851.6,682.6 853.3,683.2C855.0,683.9 856.6,684.5 858.3,685.2C860.0,685.8 861.6,686.5 863.3,687.2C865.0,687.8 866.6,688.5 868.3,689.2C870.0,689.9 871.6,690.6 873.3,691.3C875.0,692.0 876.6,692.7 878.3,693.4C880.0,694.1 881.6,694.8 883.3,695.6C885.0,696.3 886.6,697.0 888.3,697.8C890.0,698.5 891.6,699.3 893.3,700.0C895.0,700.8 896.6,701.5 898.3,702.3C900.0,703.1 901.6,703.9 903.3,704.6C905.0,705.4 906.6,706.2 908.3,707.0C910.0,707.8 911.6,708.6 913.3,709.4C915.0,710.2 916.6,711.1 918.3,711.9C920.0,712.7 921.6,713.6 923.3,714.5C925.0,715.3 926.6,716.2 928.3,717.1C930.0,718.0 931.6,718.9 933.3,719.8C935.0,720.7 936.6,721.6 938.3,722.6C940.0,723.5 941.6,724.5 943.3,725.5C945.0,726.4 946.6,727.4 948.3,728.5C950.0,729.5 951.6,730.5 953.3,731.5C955.0,732.6 956.6,733.7 958.3,734.8C960.0,735.9 961.6,737.0 963.3,738.1C965.0,739.2 966.6,740.4 968.3,741.6C970.0,742.7 971.6,743.9 973.3,745.2C975.0,746.4 976.6,747.6 978.3,748.9C980.0,750.2 981.6,751.5 983.3,752.8C985.0,754.1 986.6,755.5 988.3,756.9C990.0,758.3 991.6,759.7 993.3,761.1C995.0,762.5 996.6,764.0 998.3,765.5C1000.0,767.0 1001.6,768.5 1003.3,770.1C1005.0,771.6 1006.6,773.2 1008.3,774.8C1010.0,776.4 1011.6,778.0 1013.3,779.7C1015.0,781.3 1016.6,782.9 1018.3,784.6C1020.0,786.2 1021.6,787.9 1023.3,789.5C1025.0,791.2 1026.6,792.9 1028.3,794.5C1030.0,796.1 1031.6,797.8 1033.3,799.4C1035.0,801.0 1036.6,802.6 1038.3,804.2C1040.0,805.8 1041.6,807.4 1043.3,808.9C1045.0,810.5 1046.6,812.0 1048.3,813.5C1050.0,815.0 1051.6,816.5 1053.3,818.0C1055.0,819.4 1056.6,820.9 1058.3,822.3C1060.0,823.6 1061.6,825.0 1063.3,826.3C1065.0,827.7 1066.6,829.0 1068.3,830.2C1070.0,831.5 1071.6,832.7 1073.3,833.9C1075.0,835.1 1076.6,836.3 1078.3,837.4C1080.0,838.5 1081.6,839.6 1083.3,840.7C1085.0,841.7 1086.6,842.8 1088.3,843.8C1090.0,844.8 1091.6,845.8 1093.3,846.8C1095.0,847.7 1096.6,848.7 1098.3,849.6C1100.0,850.5 1101.6,851.4 1103.3,852.3C1105.0,853.2 1106.6,854.0 1108.3,854.9C1110.0,855.8 1111.6,856.6 1113.3,857.4C1115.0,858.2 1116.6,859.0 1118.3,859.8C1120.0,860.6 1121.6,861.4 1123.3,862.2C1125.0,863.0 1126.6,863.8 1128.3,864.6C1130.0,865.3 1131.6,866.1 1133.3,866.9C1135.0,867.6 1136.6,868.4 1138.3,869.1C1140.0,869.9 1141.6,870.7 1143.3,871.4C1145.0,872.2 1146.6,873.0 1148.3,873.7C1150.0,874.5 1151.6,875.3 1153.3,876.1C1155.0,876.9 1156.6,877.6 1158.3,878.4C1160.0,879.3 1161.6,880.1 1163.3,880.9C1165.0,881.7 1166.6,882.5 1168.3,883.4C1170.0,884.2 1171.6,885.1 1173.3,886.0C1175.0,886.9 1176.6,887.8 1178.3,888.7C1180.0,889.6 1181.6,890.5 1183.3,891.5C1185.0,892.5 1186.6,893.4 1188.3,894.4C1190.0,895.4 1191.6,896.5 1193.3,897.5C1195.0,898.6 1196.6,899.7 1198.3,900.8C1200.0,901.9 1201.6,903.0 1203.3,904.2C1205.0,905.4 1206.6,906.6 1208.3,907.8C1210.0,909.0 1211.6,910.3 1213.3,911.6C1215.0,912.9 1216.6,914.2 1218.3,915.6C1220.0,917.0 1221.6,918.4 1223.3,919.8C1225.0,921.2 1226.6,922.7 1228.3,924.1C1230.0,925.6 1231.6,927.1 1233.3,928.6C1235.0,930.1 1236.6,931.6 1238.3,933.2C1240.0,934.7 1241.6,936.2 1243.3,937.8C1245.0,939.3 1246.6,940.9 1248.3,942.4C1250.0,944.0 1251.6,945.5 1253.3,947.1C1255.0,948.6 1256.6,950.1 1258.3,951.7C1260.0,953.2 1261.6,954.7 1263.3,956.3C1265.0,957.8 1266.6,959.3 1268.3,960.8C1270.0,962.3 1271.6,963.8 1273.3,965.3C1275.0,966.8 1276.6,968.3 1278.3,969.7C1280.0,971.2 1281.6,972.6 1283.3,974.1C1285.0,975.5 1286.6,976.9 1288.3,978.3C1290.0,979.7 1291.6,981.0 1293.3,982.4C1295.0,983.7 1296.6,985.1 1298.3,986.4C1300.0,987.7 1301.6,989.0 1303.3,990.2C1305.0,991.5 1306.6,992.7 1308.3,993.9C1310.0,995.1 1311.6,996.3 1313.3,997.4C1315.0,998.5 1316.6,999.6 1318.3,1000.7C1320.0,1001.8 1321.6,1002.8 1323.3,1003.8C1325.0,1004.8 1326.6,1005.8 1328.3,1006.7C1330.0,1007.6 1331.6,1008.5 1333.3,1009.3C1335.0,1010.2 1336.6,1011.0 1338.3,1011.7C1340.0,1012.5 1341.6,1013.2 1343.3,1013.9C1345.0,1014.6 1346.6,1015.2 1348.3,1015.8C1350.0,1016.3 1351.6,1016.9 1353.3,1017.3C1355.0,1017.8 1356.6,1018.3 1358.3,1018.7C1360.0,1019.1 1361.6,1019.4 1363.3,1019.7C1365.0,1020.1 1366.6,1020.3 1368.3,1020.6C1370.0,1020.8 1371.6,1021.0 1373.3,1021.2C1375.0,1021.4 1376.6,1021.5 1378.3,1021.6C1380.0,1021.8 1381.6,1021.8 1383.3,1021.9C1385.0,1022.0 1386.6,1022.0 1388.3,1022.0C1390.0,1022.0 1391.6,1022.0 1393.3,1021.9C1395.0,1021.9 1396.6,1021.8 1398.3,1021.7C1400.0,1021.7 1401.6,1021.6 1403.3,1021.4C1405.0,1021.3 1406.6,1021.2 1408.3,1021.1C1410.0,1020.9 1411.6,1020.8 1413.3,1020.6C1415.0,1020.4 1416.6,1020.2 1418.3,1020.0C1420.0,1019.9 1421.6,1019.6 1423.3,1019.4C1425.0,1019.2 1426.6,1018.9 1428.3,1018.7C1430.0,1018.4 1431.6,1018.1 1433.3,1017.8C1435.0,1017.5 1436.6,1017.1 1438.3,1016.7C1440.0,1016.3 1441.6,1015.9 1443.3,1015.5C1445.0,1015.0 1446.6,1014.5 1448.3,1014.0C1450.0,1013.5 1451.6,1012.9 1453.3,1012.3C1455.0,1011.7 1456.6,1011.0 1458.3,1010.4C1460.0,1009.7 1461.6,1009.0 1463.3,1008.2C1465.0,1007.5 1466.6,1006.7 1468.3,1005.9C1470.0,1005.1 1471.6,1004.2 1473.3,1003.4C1475.0,1002.5 1476.6,1001.6 1478.3,1000.7C1480.0,999.7 1481.6,998.8 1483.3,997.8C1485.0,996.8 1486.6,995.8 1488.3,994.8C1490.0,993.8 1491.6,992.7 1493.3,991.6C1495.0,990.6 1496.6,989.5 1498.3,988.4C1500.0,987.2 1501.6,986.1 1503.3,985.0C1505.0,983.8 1506.6,982.7 1508.3,981.5C1510.0,980.3 1511.6,979.1 1513.3,977.9C1515.0,976.7 1516.6,975.5 1518.3,974.3C1520.0,973.0 1521.6,971.8 1523.3,970.6C1525.0,969.3 1526.6,968.1 1528.3,966.8C1530.0,965.5 1531.6,964.3 1533.3,963.0C1535.0,961.7 1536.6,960.4 1538.3,959.2C1540.0,957.9 1541.6,956.6 1543.3,955.3C1545.0,954.0 1546.6,952.8 1548.3,951.5C1550.0,950.2 1551.6,948.9 1553.3,947.7C1555.0,946.4 1556.6,945.1 1558.3,943.8C1560.0,942.6 1561.6,941.3 1563.3,940.1C1565.0,938.8 1566.6,937.6 1568.3,936.3C1570.0,935.1 1571.6,933.9 1573.3,932.7C1575.0,931.5 1576.6,930.3 1578.3,929.1C1580.0,927.9 1581.6,926.7 1583.3,925.6C1585.0,924.4 1586.6,923.3 1588.3,922.2C1590.0,921.0 1591.6,919.9 1593.3,918.8C1595.0,917.7 1596.6,916.6 1598.3,915.5C1600.0,914.5 1601.6,913.4 1603.3,912.3C1605.0,911.3 1606.6,910.2 1608.3,909.2C1610.0,908.1 1611.6,907.1 1613.3,906.1C1615.0,905.0 1616.6,904.0 1618.3,903.0C1620.0,902.0 1621.6,901.0 1623.3,900.0C1625.0,899.0 1626.6,898.0 1628.3,897.0C1630.0,896.0 1631.6,895.0 1633.3,894.0C1635.0,893.0 1636.6,892.0 1638.3,891.0C1640.0,890.0 1641.6,889.1 1643.3,888.1C1645.0,887.1 1646.6,886.1 1648.3,885.1C1650.0,884.1 1651.6,883.1 1653.3,882.1C1655.0,881.2 1656.6,880.2 1658.3,879.2C1660.0,878.2 1661.6,877.2 1663.3,876.2C1665.0,875.1 1666.6,874.1 1668.3,873.1C1670.0,872.1 1671.6,871.1 1673.3,870.1C1675.0,869.0 1676.6,868.0 1678.3,866.9C1680.0,865.9 1681.6,864.8 1683.3,863.8C1685.0,862.7 1686.6,861.6 1688.3,860.6C1690.0,859.5 1691.6,858.4 1693.3,857.3C1695.0,856.2 1696.6,855.1 1698.3,854.0C1700.0,852.9 1701.6,851.7 1703.3,850.6C1705.0,849.5 1706.6,848.3 1708.3,847.2C1710.0,846.0 1711.6,844.9 1713.3,843.7C1715.0,842.5 1716.6,841.4 1718.3,840.2C1720.0,839.0 1721.6,837.8 1723.3,836.6C1725.0,835.4 1726.6,834.2 1728.3,833.0C1730.0,831.8 1731.6,830.5 1733.3,829.3C1735.0,828.1 1736.6,826.8 1738.3,825.6C1740.0,824.3 1741.6,823.0 1743.3,821.8C1745.0,820.5 1746.6,819.2 1748.3,817.9C1750.0,816.6 1751.6,815.4 1753.3,814.0C1755.0,812.7 1756.6,811.4 1758.3,810.1C1760.0,808.8 1761.6,807.5 1763.3,806.1C1765.0,804.8 1766.6,803.4 1768.3,802.1C1770.0,800.7 1771.6,799.3 1773.3,798.0C1775.0,796.6 1776.6,795.2 1778.3,793.8C1780.0,792.4 1781.6,791.0 1783.3,789.6C1785.0,788.2 1786.6,786.8 1788.3,785.4C1790.0,784.0 1791.6,782.5 1793.3,781.1C1795.0,779.6 1796.6,778.2 1798.3,776.7C1800.0,775.3 1801.6,773.8 1803.3,772.3C1805.0,770.9 1806.6,769.4 1808.3,767.9C1810.0,766.4 1811.6,764.9 1813.3,763.4C1815.0,761.9 1816.6,760.4 1818.3,758.8C1820.0,757.3 1821.6,755.8 1823.3,754.2C1825.0,752.7 1826.6,751.1 1828.3,749.6C1830.0,748.0 1831.6,746.4 1833.3,744.9C1835.0,743.3 1836.6,741.7 1838.3,740.1C1840.0,738.5 1841.6,736.9 1843.3,735.3C1845.0,733.7 1846.6,732.1 1848.3,730.4C1850.0,728.8 1851.6,727.2 1853.3,725.5C1855.0,723.9 1856.6,722.2 1858.3,720.6C1860.0,718.9 1861.6,717.2 1863.3,715.6C1865.0,713.9 1866.6,712.2 1868.3,710.5C1870.0,708.8 1871.6,707.1 1873.3,705.4C1875.0,703.7 1876.6,702.0 1878.3,700.2C1880.0,698.5 1881.6,696.8 1883.3,695.0C1885.0,693.3 1886.6,691.5 1888.3,689.8C1890.0,688.0 1891.6,686.2 1893.3,684.5C1895.0,682.7 1896.6,680.9 1898.3,679.1C1900.0,677.3 1901.6,675.5 1903.3,673.7C1905.0,671.9 1906.6,670.1 1908.3,668.2C1910.0,666.4 1911.6,664.6 1913.3,662.7C1915.0,660.9 1916.6,659.0 1918.3,657.2C1920.0,655.3 1921.6,653.5 1923.3,651.6C1925.0,649.7 1926.6,647.8 1928.3,646.0C1930.0,644.1 1931.6,642.2 1933.3,640.3C1935.0,638.4 1936.6,636.5 1938.3,634.6C1940.0,632.7 1941.6,630.8 1943.3,628.9C1945.0,627.0 1946.6,625.2 1948.3,623.3C1950.0,621.4 1951.6,619.5 1953.3,617.6C1955.0,615.7 1956.6,613.8 1958.3,611.9C1960.0,610.0 1961.6,608.1 1963.3,606.3C1965.0,604.4 1966.6,602.5 1968.3,600.7C1970.0,598.8 1971.6,596.9 1973.3,595.1C1975.0,593.2 1976.6,591.4 1978.3,589.5C1980.0,587.7 1981.6,585.9 1983.3,584.1C1985.0,582.2 1986.6,580.4 1988.3,578.6C1990.0,576.8 1991.6,575.1 1993.3,573.3C1995.0,571.5 1996.6,569.7 1998.3,567.9C2000.0,566.2 2001.6,564.4 2003.3,562.6C2005.0,560.9 2006.6,559.1 2008.3,557.4C2010.0,555.6 2011.6,553.8 2013.3,552.1C2015.0,550.3 2016.6,548.5 2018.3,546.7C2020.0,544.9 2021.6,543.2 2023.3,541.4C2025.0,539.6 2026.6,537.8 2028.3,536.0C2030.0,534.1 2031.6,532.3 2033.3,530.5C2035.0,528.6 2036.6,526.8 2038.3,524.9C2040.0,523.0 2041.6,521.1 2043.3,519.2C2045.0,517.3 2046.6,515.4 2048.3,513.4C2050.0,511.5 2051.6,509.6 2053.3,507.6C2055.0,505.6 2056.6,503.6 2058.3,501.7C2060.0,499.7 2061.6,497.7 2063.3,495.7C2065.0,493.7 2066.6,491.7 2068.3,489.7C2070.0,487.7 2071.6,485.7 2073.3,483.7C2075.0,481.7 2076.6,479.7 2078.3,477.7C2080.0,475.8 2081.6,473.8 2083.3,471.8C2085.0,469.8 2086.6,467.9 2088.3,465.9C2090.0,464.0 2091.6,462.1 2093.3,460.1C2095.0,458.2 2096.6,456.3 2098.3,454.5C2100.0,452.6 2101.6,450.7 2103.3,448.9C2105.0,447.0 2106.6,445.2 2108.3,443.4C2110.0,441.7 2111.6,439.9 2113.3,438.2C2115.0,436.5 2116.6,434.8 2118.3,433.1C2120.0,431.4 2121.6,429.8 2123.3,428.2C2125.0,426.6 2126.6,425.1 2128.3,423.5C2130.0,422.0 2131.6,420.5 2133.3,419.0C2135.0,417.5 2136.6,416.1 2138.3,414.6C2140.0,413.2 2141.6,411.8 2143.3,410.4C2145.0,409.0 2146.6,407.7 2148.3,406.3C2150.0,405.0 2151.6,403.6 2153.3,402.3C2155.0,401.0 2156.6,399.7 2158.3,398.4C2160.0,397.1 2161.6,395.9 2163.3,394.6C2165.0,393.3 2166.6,392.1 2168.3,390.8C2170.0,389.6 2171.6,388.3 2173.3,387.1C2175.0,385.9 2176.6,384.6 2178.3,383.4C2180.0,382.2 2181.6,381.0 2183.3,379.7C2185.0,378.5 2186.6,377.3 2188.3,376.1C2190.0,374.8 2191.6,373.6 2193.3,372.4C2195.0,371.1 2196.6,369.9 2198.3,368.6C2200.0,367.4 2201.6,366.1 2203.3,364.8C2205.0,363.6 2206.6,362.3 2208.3,361.0C2210.0,359.7 2211.6,358.4 2213.3,357.1C2215.0,355.7 2216.6,354.4 2218.3,353.0C2220.0,351.7 2221.6,350.3 2223.3,348.9C2225.0,347.5 2226.6,346.1 2228.3,344.7C2230.0,343.2 2231.6,341.8 2233.3,340.3C2235.0,338.8 2236.6,337.3 2238.3,335.7C2240.0,334.2 2241.6,332.6 2243.3,331.0C2245.0,329.4 2246.6,327.7 2248.3,326.1C2250.0,324.4 2251.6,322.7 2253.3,320.9C2255.0,319.2 2256.6,317.4 2258.3,315.6C2260.0,313.8 2261.6,312.0 2263.3,310.1C2265.0,308.2 2266.6,306.3 2268.3,304.4C2270.0,302.5 2271.6,300.5 2273.3,298.6C2275.0,296.6 2276.6,294.6 2278.3,292.6C2280.0,290.6 2281.6,288.5 2283.3,286.5C2285.0,284.5 2286.6,282.4 2288.3,280.3C2290.0,278.3 2291.6,276.2 2293.3,274.1C2295.0,272.0 2296.6,269.9 2298.3,267.8C2300.0,265.7 2301.6,263.6 2303.3,261.4C2305.0,259.3 2306.6,257.2 2308.3,255.1C2310.0,253.0 2311.6,250.9 2313.3,248.8C2315.0,246.7 2316.6,244.6 2318.3,242.5C2320.0,240.4 2321.6,238.3 2323.3,236.2C2325.0,234.1 2326.6,232.1 2328.3,230.0C2330.0,228.0 2331.6,225.9 2333.3,223.9C2335.0,221.9 2336.6,219.9 2338.3,217.9C2340.0,215.9 2341.6,214.0 2343.3,212.0C2345.0,210.1 2346.6,208.2 2348.3,206.3C2350.0,204.4 2352.4,201.8 2353.3,200.7C2354.2,199.7 2353.9,200.1 2354.0,200.0" stroke="#98434b" stroke-width="7.3"/>
<path id="nh3" d="M443.3,624.2C444.1,624.4 446.6,624.7 448.3,625.0C450.0,625.2 451.6,625.4 453.3,625.6C455.0,625.8 456.6,626.0 458.3,626.2C460.0,626.4 461.6,626.6 463.3,626.8C465.0,627.0 466.6,627.2 468.3,627.3C470.0,627.5 471.6,627.6 473.3,627.8C475.0,627.9 476.6,628.0 478.3,628.2C480.0,628.3 481.6,628.4 483.3,628.5C485.0,628.6 486.6,628.7 488.3,628.8C490.0,628.9 491.6,629.0 493.3,629.1C495.0,629.2 496.6,629.3 498.3,629.3C500.0,629.4 501.6,629.5 503.3,629.5C505.0,629.6 506.6,629.6 508.3,629.7C510.0,629.7 511.6,629.7 513.3,629.8C515.0,629.8 516.6,629.8 518.3,629.8C520.0,629.8 521.6,629.9 523.3,629.9C525.0,629.9 526.6,629.9 528.3,629.9C530.0,629.9 531.6,629.8 533.3,629.8C535.0,629.8 536.6,629.8 538.3,629.8C540.0,629.7 541.6,629.7 543.3,629.7C545.0,629.6 546.6,629.6 548.3,629.5C550.0,629.5 551.6,629.5 553.3,629.4C555.0,629.3 556.6,629.3 558.3,629.2C560.0,629.2 561.6,629.1 563.3,629.0C565.0,629.0 566.6,628.9 568.3,628.8C570.0,628.8 571.6,628.7 573.3,628.6C575.0,628.5 576.6,628.4 578.3,628.3C580.0,628.3 581.6,628.2 583.3,628.1C585.0,628.0 586.6,627.9 588.3,627.8C590.0,627.7 591.6,627.6 593.3,627.5C595.0,627.4 596.6,627.3 598.3,627.2C600.0,627.1 601.6,627.0 603.3,626.9C605.0,626.8 606.6,626.7 608.3,626.6C610.0,626.4 611.6,626.3 613.3,626.2C615.0,626.1 616.6,626.0 618.3,625.9C620.0,625.8 621.6,625.7 623.3,625.6C625.0,625.4 626.6,625.3 628.3,625.2C630.0,625.1 631.6,625.0 633.3,624.9C635.0,624.8 636.6,624.6 638.3,624.5C640.0,624.4 641.6,624.3 643.3,624.2C645.0,624.1 646.6,624.0 648.3,623.9C650.0,623.8 651.6,623.7 653.3,623.5C655.0,623.4 656.6,623.3 658.3,623.2C660.0,623.1 661.6,623.0 663.3,622.9C665.0,622.8 666.6,622.7 668.3,622.6C670.0,622.5 671.6,622.4 673.3,622.3C675.0,622.3 676.6,622.2 678.3,622.1C680.0,622.0 681.6,621.9 683.3,621.8C685.0,621.7 686.6,621.7 688.3,621.6C690.0,621.5 691.6,621.4 693.3,621.4C695.0,621.3 696.6,621.2 698.3,621.2C700.0,621.1 701.6,621.1 703.3,621.0C705.0,620.9 706.6,620.9 708.3,620.9C710.0,620.8 711.6,620.8 713.3,620.7C715.0,620.7 716.6,620.7 718.3,620.6C720.0,620.6 721.6,620.6 723.3,620.6C725.0,620.5 726.6,620.5 728.3,620.5C730.0,620.5 731.6,620.5 733.3,620.5C735.0,620.5 736.6,620.5 738.3,620.5C740.0,620.5 741.6,620.6 743.3,620.6C745.0,620.6 746.6,620.6 748.3,620.7C750.0,620.7 751.6,620.7 753.3,620.8C755.0,620.8 756.6,620.9 758.3,620.9C760.0,621.0 761.6,621.1 763.3,621.1C765.0,621.2 766.6,621.3 768.3,621.4C770.0,621.5 771.6,621.6 773.3,621.7C775.0,621.8 776.6,621.9 778.3,622.0C780.0,622.1 781.6,622.2 783.3,622.3C785.0,622.5 786.6,622.6 788.3,622.8C790.0,622.9 791.6,623.1 793.3,623.2C795.0,623.4 796.6,623.5 798.3,623.7C800.0,623.9 801.6,624.1 803.3,624.3C805.0,624.5 806.6,624.6 808.3,624.8C810.0,625.0 811.6,625.2 813.3,625.4C815.0,625.5 816.6,625.7 818.3,625.8C820.0,626.0 821.6,626.1 823.3,626.2C825.0,626.2 826.6,626.3 828.3,626.3C830.0,626.3 831.6,626.3 833.3,626.2C835.0,626.2 836.6,626.1 838.3,626.0C840.0,625.8 841.6,625.7 843.3,625.5C845.0,625.3 846.6,625.1 848.3,624.9C850.0,624.7 851.6,624.4 853.3,624.2C855.0,623.9 856.6,623.6 858.3,623.3C860.0,623.1 861.6,622.8 863.3,622.5C865.0,622.2 866.6,621.9 868.3,621.6C870.0,621.3 871.6,621.0 873.3,620.8C875.0,620.5 876.6,620.2 878.3,620.0C880.0,619.7 881.6,619.5 883.3,619.2C885.0,619.0 886.6,618.8 888.3,618.6C890.0,618.5 891.6,618.3 893.3,618.2C895.0,618.1 896.6,618.0 898.3,618.0C900.0,617.9 901.6,617.9 903.3,617.9C905.0,618.0 906.6,618.0 908.3,618.2C910.0,618.3 911.6,618.5 913.3,618.7C915.0,618.9 916.6,619.2 918.3,619.6C920.0,619.9 921.6,620.3 923.3,620.8C925.0,621.2 926.6,621.8 928.3,622.4C930.0,623.0 931.6,623.7 933.3,624.5C935.0,625.3 936.6,626.2 938.3,627.2C940.0,628.2 941.6,629.3 943.3,630.6C945.0,631.8 946.6,633.2 948.3,634.6C950.0,636.1 951.6,637.7 953.3,639.5C955.0,641.3 956.6,643.2 958.3,645.3C960.0,647.3 961.6,649.6 963.3,652.0C965.0,654.4 966.6,656.9 968.3,659.7C970.0,662.5 971.6,665.4 973.3,668.5C975.0,671.7 976.6,675.0 978.3,678.6C980.0,682.1 981.6,685.9 983.3,689.8C985.0,693.8 986.6,698.0 988.3,702.3C990.0,706.6 991.6,711.1 993.3,715.7C995.0,720.3 996.6,725.1 998.3,730.0C1000.0,734.8 1001.6,739.8 1003.3,744.9C1005.0,750.0 1006.6,755.1 1008.3,760.3C1010.0,765.5 1011.6,770.8 1013.3,776.1C1015.0,781.4 1016.6,786.7 1018.3,792.0C1020.0,797.3 1021.6,802.7 1023.3,808.0C1025.0,813.2 1026.6,818.5 1028.3,823.7C1030.0,828.9 1031.6,834.1 1033.3,839.1C1035.0,844.2 1036.6,849.1 1038.3,854.0C1040.0,858.9 1041.6,863.7 1043.3,868.3C1045.0,873.0 1046.6,877.6 1048.3,882.0C1050.0,886.5 1051.6,890.8 1053.3,895.0C1055.0,899.2 1056.6,903.3 1058.3,907.2C1060.0,911.1 1061.6,914.9 1063.3,918.6C1065.0,922.2 1066.6,925.7 1068.3,929.0C1070.0,932.4 1071.6,935.6 1073.3,938.6C1075.0,941.7 1076.6,944.6 1078.3,947.4C1080.0,950.2 1081.6,952.9 1083.3,955.4C1085.0,958.0 1086.6,960.5 1088.3,962.9C1090.0,965.3 1091.6,967.6 1093.3,969.8C1095.0,972.0 1096.6,974.1 1098.3,976.2C1100.0,978.2 1101.6,980.2 1103.3,982.1C1105.0,984.0 1106.6,985.8 1108.3,987.6C1110.0,989.3 1111.6,991.0 1113.3,992.7C1115.0,994.3 1116.6,995.9 1118.3,997.4C1120.0,999.0 1121.6,1000.4 1123.3,1001.9C1125.0,1003.3 1126.6,1004.7 1128.3,1006.0C1130.0,1007.4 1131.6,1008.7 1133.3,1010.0C1135.0,1011.3 1136.6,1012.5 1138.3,1013.8C1140.0,1015.0 1141.6,1016.2 1143.3,1017.4C1145.0,1018.6 1146.6,1019.8 1148.3,1020.9C1150.0,1022.1 1151.6,1023.2 1153.3,1024.4C1155.0,1025.6 1156.6,1026.7 1158.3,1027.9C1160.0,1029.0 1161.6,1030.2 1163.3,1031.3C1165.0,1032.5 1166.6,1033.7 1168.3,1034.9C1170.0,1036.1 1171.6,1037.3 1173.3,1038.5C1175.0,1039.8 1176.6,1041.0 1178.3,1042.3C1180.0,1043.6 1181.6,1045.0 1183.3,1046.3C1185.0,1047.7 1186.6,1049.1 1188.3,1050.5C1190.0,1051.9 1191.6,1053.4 1193.3,1054.9C1195.0,1056.3 1196.6,1057.9 1198.3,1059.4C1200.0,1060.9 1201.6,1062.5 1203.3,1064.0C1205.0,1065.6 1206.6,1067.2 1208.3,1068.8C1210.0,1070.4 1211.6,1072.1 1213.3,1073.7C1215.0,1075.4 1216.6,1077.0 1218.3,1078.7C1220.0,1080.4 1221.6,1082.1 1223.3,1083.7C1225.0,1085.4 1226.6,1087.2 1228.3,1088.9C1230.0,1090.6 1231.6,1092.3 1233.3,1094.0C1235.0,1095.7 1236.6,1097.5 1238.3,1099.2C1240.0,1100.9 1241.6,1102.7 1243.3,1104.4C1245.0,1106.1 1246.6,1107.8 1248.3,1109.6C1250.0,1111.3 1251.6,1113.0 1253.3,1114.7C1255.0,1116.4 1256.6,1118.1 1258.3,1119.8C1260.0,1121.5 1261.6,1123.2 1263.3,1124.8C1265.0,1126.5 1266.6,1128.2 1268.3,1129.8C1270.0,1131.4 1271.6,1133.1 1273.3,1134.7C1275.0,1136.3 1276.6,1137.9 1278.3,1139.4C1280.0,1141.0 1281.6,1142.5 1283.3,1144.1C1285.0,1145.6 1286.6,1147.1 1288.3,1148.5C1290.0,1150.0 1291.6,1151.5 1293.3,1152.9C1295.0,1154.3 1296.6,1155.7 1298.3,1157.1C1300.0,1158.5 1301.6,1159.8 1303.3,1161.1C1305.0,1162.4 1306.6,1163.7 1308.3,1165.0C1310.0,1166.3 1311.6,1167.5 1313.3,1168.7C1315.0,1169.9 1316.6,1171.1 1318.3,1172.3C1320.0,1173.4 1321.6,1174.5 1323.3,1175.6C1325.0,1176.7 1326.6,1177.8 1328.3,1178.8C1330.0,1179.9 1331.6,1180.9 1333.3,1181.8C1335.0,1182.8 1336.6,1183.7 1338.3,1184.7C1340.0,1185.6 1341.6,1186.4 1343.3,1187.3C1345.0,1188.1 1346.6,1188.9 1348.3,1189.7C1350.0,1190.5 1351.6,1191.2 1353.3,1191.9C1355.0,1192.6 1356.6,1193.3 1358.3,1193.9C1360.0,1194.6 1361.6,1195.2 1363.3,1195.8C1365.0,1196.4 1366.6,1197.0 1368.3,1197.6C1370.0,1198.1 1371.6,1198.7 1373.3,1199.2C1375.0,1199.7 1376.6,1200.2 1378.3,1200.7C1380.0,1201.2 1381.6,1201.7 1383.3,1202.2C1385.0,1202.6 1386.6,1203.1 1388.3,1203.6C1390.0,1204.0 1391.6,1204.5 1393.3,1204.9C1395.0,1205.4 1396.6,1205.8 1398.3,1206.3C1400.0,1206.7 1401.6,1207.2 1403.3,1207.6C1405.0,1208.1 1406.6,1208.5 1408.3,1209.0C1410.0,1209.5 1411.6,1210.0 1413.3,1210.4C1415.0,1210.9 1416.6,1211.4 1418.3,1212.0C1420.0,1212.5 1421.6,1213.0 1423.3,1213.5C1425.0,1214.1 1426.6,1214.6 1428.3,1215.2C1430.0,1215.8 1431.6,1216.4 1433.3,1217.0C1435.0,1217.6 1436.6,1218.2 1438.3,1218.8C1440.0,1219.5 1441.6,1220.1 1443.3,1220.8C1445.0,1221.5 1446.6,1222.2 1448.3,1222.9C1450.0,1223.7 1451.6,1224.4 1453.3,1225.2C1455.0,1226.0 1456.6,1226.8 1458.3,1227.6C1460.0,1228.4 1461.6,1229.3 1463.3,1230.2C1465.0,1231.0 1466.6,1231.9 1468.3,1232.9C1470.0,1233.8 1471.6,1234.8 1473.3,1235.8C1475.0,1236.8 1476.6,1237.8 1478.3,1238.9C1480.0,1239.9 1481.6,1241.0 1483.3,1242.2C1485.0,1243.3 1486.6,1244.4 1488.3,1245.6C1490.0,1246.8 1491.6,1248.0 1493.3,1249.2C1495.0,1250.4 1496.6,1251.6 1498.3,1252.8C1500.0,1254.0 1501.6,1255.3 1503.3,1256.5C1505.0,1257.7 1506.6,1258.9 1508.3,1260.1C1510.0,1261.3 1511.6,1262.5 1513.3,1263.7C1515.0,1264.9 1516.6,1266.0 1518.3,1267.2C1520.0,1268.3 1521.6,1269.4 1523.3,1270.5C1525.0,1271.6 1526.6,1272.7 1528.3,1273.8C1530.0,1274.8 1531.6,1275.9 1533.3,1276.9C1535.0,1277.9 1536.6,1279.0 1538.3,1280.0C1540.0,1280.9 1541.6,1281.9 1543.3,1282.9C1545.0,1283.8 1546.6,1284.8 1548.3,1285.7C1550.0,1286.7 1551.6,1287.6 1553.3,1288.5C1555.0,1289.4 1556.6,1290.2 1558.3,1291.1C1560.0,1292.0 1561.6,1292.8 1563.3,1293.7C1565.0,1294.5 1566.6,1295.3 1568.3,1296.1C1570.0,1297.0 1571.6,1297.7 1573.3,1298.5C1575.0,1299.3 1576.6,1300.1 1578.3,1300.8C1580.0,1301.6 1581.6,1302.3 1583.3,1303.1C1585.0,1303.8 1586.6,1304.5 1588.3,1305.2C1590.0,1305.9 1591.6,1306.6 1593.3,1307.3C1595.0,1308.0 1596.6,1308.6 1598.3,1309.3C1600.0,1309.9 1601.6,1310.6 1603.3,1311.2C1605.0,1311.8 1606.6,1312.5 1608.3,1313.1C1610.0,1313.7 1611.6,1314.3 1613.3,1314.9C1615.0,1315.5 1616.6,1316.0 1618.3,1316.6C1620.0,1317.2 1621.6,1317.8 1623.3,1318.3C1625.0,1318.9 1626.6,1319.4 1628.3,1319.9C1630.0,1320.5 1631.6,1321.0 1633.3,1321.5C1635.0,1322.0 1636.6,1322.5 1638.3,1323.0C1640.0,1323.5 1641.6,1324.0 1643.3,1324.5C1645.0,1325.0 1646.6,1325.5 1648.3,1325.9C1650.0,1326.4 1651.6,1326.9 1653.3,1327.3C1655.0,1327.8 1656.6,1328.2 1658.3,1328.7C1660.0,1329.1 1661.6,1329.6 1663.3,1330.0C1665.0,1330.4 1666.6,1330.9 1668.3,1331.3C1670.0,1331.7 1671.6,1332.1 1673.3,1332.5C1675.0,1333.0 1676.6,1333.4 1678.3,1333.8C1680.0,1334.2 1681.6,1334.6 1683.3,1335.0C1685.0,1335.4 1686.6,1335.7 1688.3,1336.1C1690.0,1336.5 1691.6,1336.9 1693.3,1337.3C1695.0,1337.7 1696.6,1338.0 1698.3,1338.4C1700.0,1338.8 1701.6,1339.2 1703.3,1339.5C1705.0,1339.9 1706.6,1340.3 1708.3,1340.7C1710.0,1341.0 1711.6,1341.4 1713.3,1341.7C1715.0,1342.1 1716.6,1342.5 1718.3,1342.8C1720.0,1343.2 1721.6,1343.6 1723.3,1343.9C1725.0,1344.3 1726.6,1344.6 1728.3,1345.0C1730.0,1345.4 1731.6,1345.7 1733.3,1346.1C1735.0,1346.4 1736.6,1346.8 1738.3,1347.2C1740.0,1347.5 1741.6,1347.9 1743.3,1348.2C1745.0,1348.6 1746.6,1348.9 1748.3,1349.3C1750.0,1349.6 1751.6,1350.0 1753.3,1350.3C1755.0,1350.7 1756.6,1351.0 1758.3,1351.4C1760.0,1351.7 1761.6,1352.1 1763.3,1352.4C1765.0,1352.8 1766.6,1353.1 1768.3,1353.5C1770.0,1353.8 1771.6,1354.1 1773.3,1354.5C1775.0,1354.8 1776.6,1355.2 1778.3,1355.5C1780.0,1355.8 1781.6,1356.2 1783.3,1356.5C1785.0,1356.8 1786.6,1357.2 1788.3,1357.5C1790.0,1357.8 1791.6,1358.2 1793.3,1358.5C1795.0,1358.8 1796.6,1359.2 1798.3,1359.5C1800.0,1359.8 1801.6,1360.1 1803.3,1360.5C1805.0,1360.8 1806.6,1361.1 1808.3,1361.4C1810.0,1361.7 1811.6,1362.0 1813.3,1362.4C1815.0,1362.7 1816.6,1363.0 1818.3,1363.3C1820.0,1363.6 1821.6,1363.9 1823.3,1364.2C1825.0,1364.5 1826.6,1364.8 1828.3,1365.1C1830.0,1365.4 1831.6,1365.7 1833.3,1366.0C1835.0,1366.3 1836.6,1366.6 1838.3,1366.9C1840.0,1367.2 1841.6,1367.5 1843.3,1367.8C1845.0,1368.1 1846.6,1368.4 1848.3,1368.6C1850.0,1368.9 1851.6,1369.2 1853.3,1369.5C1855.0,1369.8 1856.6,1370.1 1858.3,1370.3C1860.0,1370.6 1861.6,1370.9 1863.3,1371.1C1865.0,1371.4 1866.6,1371.7 1868.3,1371.9C1870.0,1372.2 1871.6,1372.5 1873.3,1372.7C1875.0,1373.0 1876.6,1373.2 1878.3,1373.5C1880.0,1373.7 1881.6,1374.0 1883.3,1374.2C1885.0,1374.5 1886.6,1374.7 1888.3,1375.0C1890.0,1375.2 1891.6,1375.5 1893.3,1375.7C1895.0,1375.9 1896.6,1376.2 1898.3,1376.4C1900.0,1376.6 1901.6,1376.8 1903.3,1377.1C1905.0,1377.3 1906.6,1377.5 1908.3,1377.7C1910.0,1377.9 1911.6,1378.2 1913.3,1378.4C1915.0,1378.6 1916.6,1378.8 1918.3,1379.0C1920.0,1379.2 1921.6,1379.4 1923.3,1379.6C1925.0,1379.8 1926.6,1380.0 1928.3,1380.2C1930.0,1380.4 1931.6,1380.6 1933.3,1380.7C1935.0,1380.9 1936.6,1381.1 1938.3,1381.3C1940.0,1381.5 1941.6,1381.6 1943.3,1381.8C1945.0,1382.0 1946.6,1382.2 1948.3,1382.3C1950.0,1382.5 1951.6,1382.7 1953.3,1382.8C1955.0,1383.0 1956.6,1383.1 1958.3,1383.3C1960.0,1383.4 1961.6,1383.6 1963.3,1383.7C1965.0,1383.9 1966.6,1384.0 1968.3,1384.2C1970.0,1384.3 1971.6,1384.5 1973.3,1384.6C1975.0,1384.7 1976.6,1384.9 1978.3,1385.0C1980.0,1385.1 1981.6,1385.3 1983.3,1385.4C1985.0,1385.5 1986.6,1385.6 1988.3,1385.8C1990.0,1385.9 1991.6,1386.0 1993.3,1386.1C1995.0,1386.2 1996.6,1386.3 1998.3,1386.5C2000.0,1386.6 2001.6,1386.7 2003.3,1386.8C2005.0,1386.9 2006.6,1387.0 2008.3,1387.1C2010.0,1387.2 2011.6,1387.3 2013.3,1387.4C2015.0,1387.5 2016.6,1387.6 2018.3,1387.7C2020.0,1387.8 2021.6,1387.9 2023.3,1387.9C2025.0,1388.0 2026.6,1388.1 2028.3,1388.2C2030.0,1388.3 2031.6,1388.4 2033.3,1388.4C2035.0,1388.5 2036.6,1388.6 2038.3,1388.7C2040.0,1388.8 2041.6,1388.8 2043.3,1388.9C2045.0,1389.0 2046.6,1389.0 2048.3,1389.1C2050.0,1389.2 2051.6,1389.2 2053.3,1389.3C2055.0,1389.4 2056.6,1389.4 2058.3,1389.5C2060.0,1389.5 2061.6,1389.6 2063.3,1389.6C2065.0,1389.7 2066.6,1389.8 2068.3,1389.8C2070.0,1389.9 2071.6,1389.9 2073.3,1390.0C2075.0,1390.0 2076.6,1390.1 2078.3,1390.1C2080.0,1390.1 2081.6,1390.2 2083.3,1390.2C2085.0,1390.3 2086.6,1390.3 2088.3,1390.3C2090.0,1390.4 2091.6,1390.4 2093.3,1390.5C2095.0,1390.5 2096.6,1390.5 2098.3,1390.6C2100.0,1390.6 2101.6,1390.6 2103.3,1390.7C2105.0,1390.7 2106.6,1390.7 2108.3,1390.7C2110.0,1390.8 2111.6,1390.8 2113.3,1390.8C2115.0,1390.8 2116.6,1390.9 2118.3,1390.9C2120.0,1390.9 2121.6,1390.9 2123.3,1390.9C2125.0,1391.0 2126.6,1391.0 2128.3,1391.0C2130.0,1391.0 2131.6,1391.0 2133.3,1391.1C2135.0,1391.1 2136.6,1391.1 2138.3,1391.1C2140.0,1391.1 2141.6,1391.1 2143.3,1391.1C2145.0,1391.1 2146.6,1391.1 2148.3,1391.2C2150.0,1391.2 2151.6,1391.2 2153.3,1391.2C2155.0,1391.2 2156.6,1391.2 2158.3,1391.2C2160.0,1391.2 2161.6,1391.2 2163.3,1391.2C2165.0,1391.2 2166.6,1391.2 2168.3,1391.2C2170.0,1391.2 2171.6,1391.2 2173.3,1391.2C2175.0,1391.2 2176.6,1391.2 2178.3,1391.2C2180.0,1391.2 2181.6,1391.2 2183.3,1391.2C2185.0,1391.2 2186.6,1391.2 2188.3,1391.2C2190.0,1391.2 2191.6,1391.2 2193.3,1391.2C2195.0,1391.2 2196.6,1391.2 2198.3,1391.2C2200.0,1391.2 2201.6,1391.2 2203.3,1391.2C2205.0,1391.2 2206.6,1391.2 2208.3,1391.2C2210.0,1391.2 2211.6,1391.2 2213.3,1391.2C2215.0,1391.2 2216.6,1391.1 2218.3,1391.1C2220.0,1391.1 2221.6,1391.1 2223.3,1391.1C2225.0,1391.1 2226.6,1391.1 2228.3,1391.1C2230.0,1391.1 2231.6,1391.1 2233.3,1391.1C2235.0,1391.1 2236.6,1391.1 2238.3,1391.1C2240.0,1391.0 2241.6,1391.0 2243.3,1391.0C2245.0,1391.0 2246.6,1391.0 2248.3,1391.0C2250.0,1391.0 2251.6,1391.0 2253.3,1391.0C2255.0,1391.0 2256.6,1391.0 2258.3,1391.0C2260.0,1391.0 2261.6,1391.0 2263.3,1391.0C2265.0,1391.0 2266.6,1390.9 2268.3,1390.9C2270.0,1390.9 2271.6,1390.9 2273.3,1390.9C2275.0,1390.9 2276.6,1390.9 2278.3,1390.9C2280.0,1390.9 2281.6,1390.9 2283.3,1390.9C2285.0,1390.9 2286.6,1390.9 2288.3,1390.9C2290.0,1390.9 2291.6,1390.9 2293.3,1390.9C2295.0,1390.9 2296.6,1390.9 2298.3,1390.9C2300.0,1390.9 2301.6,1390.9 2303.3,1390.9C2305.0,1390.9 2306.6,1390.9 2308.3,1390.9C2310.0,1390.9 2311.6,1390.9 2313.3,1390.9C2315.0,1390.9 2316.6,1390.9 2318.3,1390.9C2320.0,1391.0 2321.6,1391.0 2323.3,1391.0C2325.0,1391.0 2326.6,1391.0 2328.3,1391.0C2330.0,1391.0 2331.6,1391.0 2333.3,1391.0C2335.0,1391.1 2336.6,1391.1 2338.3,1391.1C2340.0,1391.1 2341.6,1391.1 2343.3,1391.1C2345.0,1391.1 2346.6,1391.2 2348.3,1391.2C2350.0,1391.2 2352.4,1391.2 2353.3,1391.2C2354.2,1391.3 2353.9,1391.3 2354.0,1391.3" stroke="#68567f" stroke-width="7.5"/>
</g>
<text class="an" x="2041" y="355" letter-spacing="0">NO</text>
<text class="an" x="910.5" y="575.7" letter-spacing="1.5">NH<tspan class="sub" dy="18.5" dx="-2.5">3</tspan></text>
<text class="an" x="1889.5" y="1005.3" letter-spacing="0">N<tspan class="sub" dy="18.5" dx="-1">2</tspan></text>
<text class="an" x="1642" y="1234.3" letter-spacing="0">N<tspan class="sub" dy="18.5" dx="-4">2</tspan><tspan dy="-18.5" dx="1.5">O</tspan></text>
<text class="an" x="2214.5" y="1149" letter-spacing="1.5">NO<tspan class="sub" dy="18.5" dx="-1">2</tspan></text>
<g class="ti" id="xt">
<text x="1114.5" y="1631.8" font-size="97.5" textLength="592.2" lengthAdjust="spacingAndGlyphs">Temperature</text>
<text transform="translate(1708.6,1647.3) skewX(-10)" font-size="132" stroke-width="1">/</text>
<text x="1757.6" y="1631.8" font-size="97.5" textLength="96.4" lengthAdjust="spacingAndGlyphs">°C</text>
</g>
<g class="ti" id="yt" transform="translate(90.3,1220) rotate(-90)">
<text x="-3.3" y="0" font-size="87" textLength="581.8" lengthAdjust="spacingAndGlyphs">Concentration</text>
<text transform="translate(575.2,13.5) skewX(-8)" font-size="116" stroke-width="1">/</text>
<text x="621.6" y="0" font-size="87" textLength="184.4" lengthAdjust="spacingAndGlyphs">ppm</text>
</g>
</svg></body></html>
